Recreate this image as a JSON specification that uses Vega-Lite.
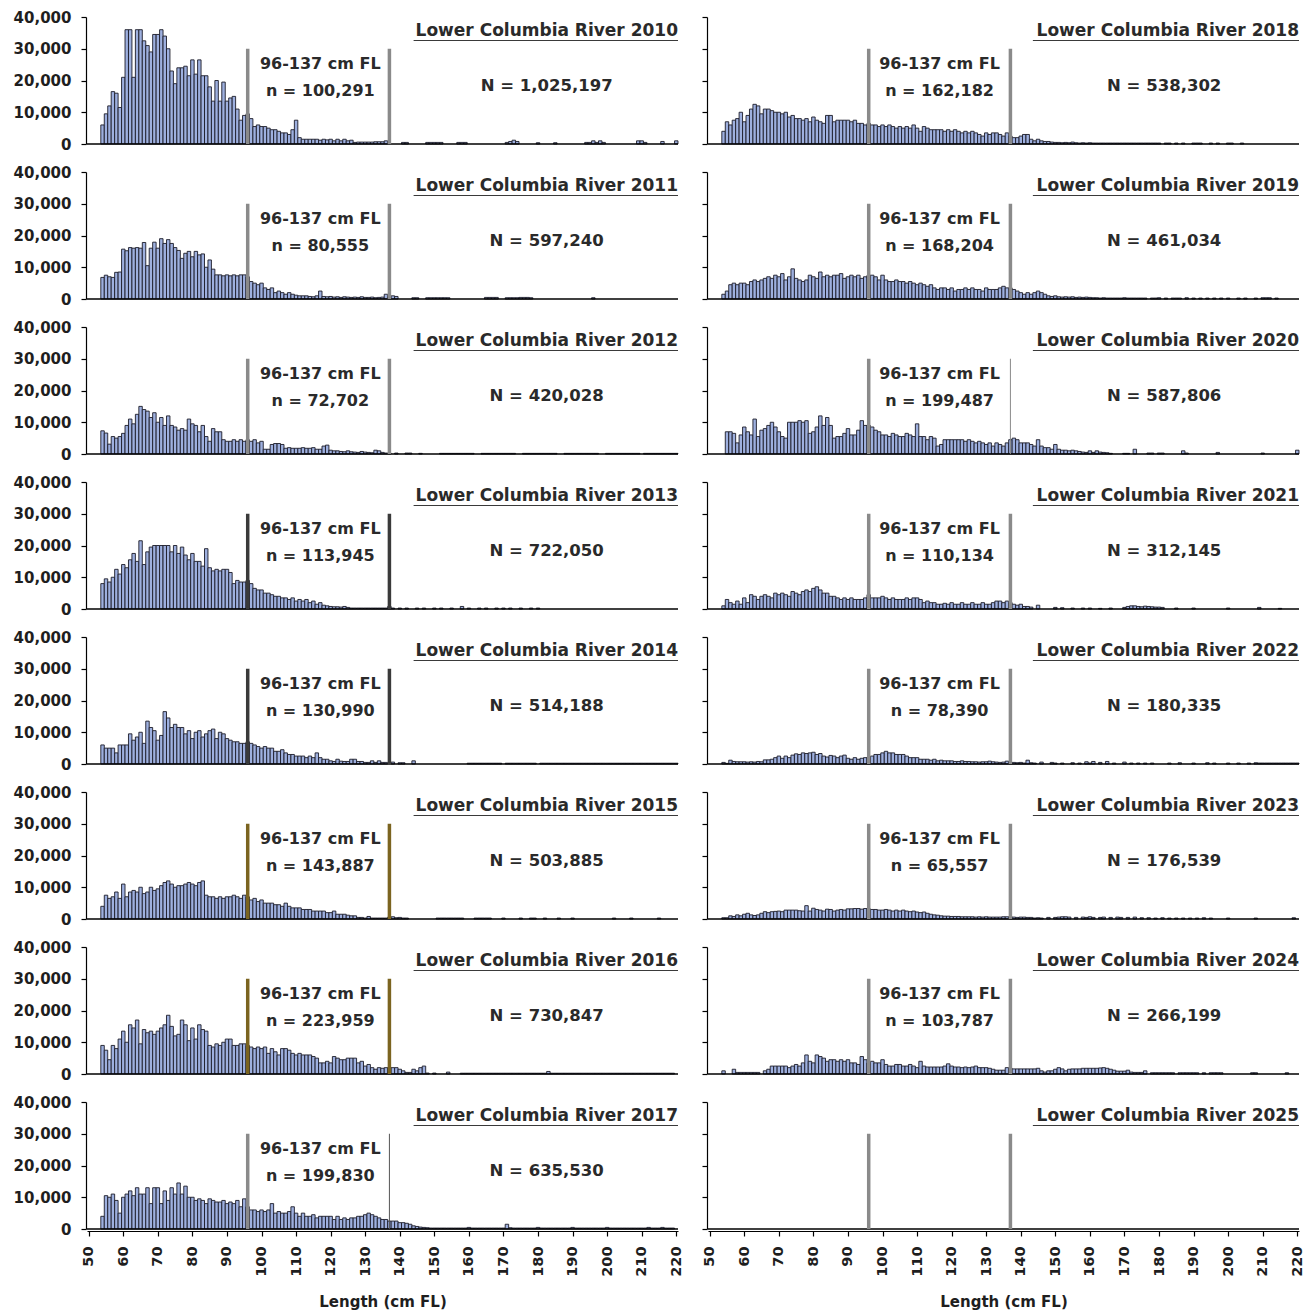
{
"$schema":"https://vega.github.io/schema/vega-lite/v6.json",
"padding":{"left":13,"top":10,"right":8,"bottom":4},
"background":"white",
"spacing":18,
"resolve":{"scale":{"x":"independent","y":"independent"},"axis":{"x":"independent","y":"independent"}},
"config":{
 "view":{"stroke":null},
 "font":"DejaVu Sans",
 "axis":{"labelFont":"DejaVu Sans","labelFontWeight":"bold","labelColor":"#1e1e1e","titleFont":"DejaVu Sans","titleFontWeight":"bold","titleColor":"#1e1e1e","domainColor":"#000","tickColor":"#000","grid":false,"domainWidth":1.2,"tickWidth":1.2,"labelOverlap":false},
 "text":{"font":"DejaVu Sans","fontWeight":"bold","fill":"#2a2a2a"}
},
"datasets":{"d":[
{"y":2010,"t":"Lower Columbia River 2010","n":"n = 100,291","N":"N = 1,025,197"},
{"y":2011,"t":"Lower Columbia River 2011","n":"n = 80,555","N":"N = 597,240"},
{"y":2012,"t":"Lower Columbia River 2012","n":"n = 72,702","N":"N = 420,028"},
{"y":2013,"t":"Lower Columbia River 2013","n":"n = 113,945","N":"N = 722,050"},
{"y":2014,"t":"Lower Columbia River 2014","n":"n = 130,990","N":"N = 514,188"},
{"y":2015,"t":"Lower Columbia River 2015","n":"n = 143,887","N":"N = 503,885"},
{"y":2016,"t":"Lower Columbia River 2016","n":"n = 223,959","N":"N = 730,847"},
{"y":2017,"t":"Lower Columbia River 2017","n":"n = 199,830","N":"N = 635,530"},
{"y":2018,"t":"Lower Columbia River 2018","n":"n = 162,182","N":"N = 538,302"},
{"y":2019,"t":"Lower Columbia River 2019","n":"n = 168,204","N":"N = 461,034"},
{"y":2020,"t":"Lower Columbia River 2020","n":"n = 199,487","N":"N = 587,806"},
{"y":2021,"t":"Lower Columbia River 2021","n":"n = 110,134","N":"N = 312,145"},
{"y":2022,"t":"Lower Columbia River 2022","n":"n = 78,390","N":"N = 180,335"},
{"y":2023,"t":"Lower Columbia River 2023","n":"n = 65,557","N":"N = 176,539"},
{"y":2024,"t":"Lower Columbia River 2024","n":"n = 103,787","N":"N = 266,199"},
{"y":2025,"t":"Lower Columbia River 2025"},
{"y":2010,"l":54,"c":6000},{"y":2010,"l":55,"c":9500},{"y":2010,"l":56,"c":12000},{"y":2010,"l":57,"c":16500},{"y":2010,"l":58,"c":16000},{"y":2010,"l":59,"c":11500},{"y":2010,"l":60,"c":21000},{"y":2010,"l":61,"c":36000},{"y":2010,"l":62,"c":36000},{"y":2010,"l":63,"c":21000},{"y":2010,"l":64,"c":36000},{"y":2010,"l":65,"c":36000},{"y":2010,"l":66,"c":32500},{"y":2010,"l":67,"c":31000},{"y":2010,"l":68,"c":29000},{"y":2010,"l":69,"c":34500},{"y":2010,"l":70,"c":34500},{"y":2010,"l":71,"c":36000},{"y":2010,"l":72,"c":34000},{"y":2010,"l":73,"c":30000},{"y":2010,"l":74,"c":23000},{"y":2010,"l":75,"c":19000},{"y":2010,"l":76,"c":24000},{"y":2010,"l":77,"c":24000},{"y":2010,"l":78,"c":24500},{"y":2010,"l":79,"c":21500},{"y":2010,"l":80,"c":26500},{"y":2010,"l":81,"c":22000},{"y":2010,"l":82,"c":26500},{"y":2010,"l":83,"c":21500},{"y":2010,"l":84,"c":21500},{"y":2010,"l":85,"c":18000},{"y":2010,"l":86,"c":13500},{"y":2010,"l":87,"c":20000},{"y":2010,"l":88,"c":13500},{"y":2010,"l":89,"c":19500},{"y":2010,"l":90,"c":13500},{"y":2010,"l":91,"c":14500},{"y":2010,"l":92,"c":15000},{"y":2010,"l":93,"c":11000},{"y":2010,"l":94,"c":7500},{"y":2010,"l":95,"c":9000},{"y":2010,"l":96,"c":9500},{"y":2010,"l":97,"c":8000},{"y":2010,"l":98,"c":5500},{"y":2010,"l":99,"c":6000},{"y":2010,"l":100,"c":5500},{"y":2010,"l":101,"c":5500},{"y":2010,"l":102,"c":5000},{"y":2010,"l":103,"c":4500},{"y":2010,"l":104,"c":4500},{"y":2010,"l":105,"c":4000},{"y":2010,"l":106,"c":3500},{"y":2010,"l":107,"c":3500},{"y":2010,"l":108,"c":3000},{"y":2010,"l":109,"c":4500},{"y":2010,"l":110,"c":7500},{"y":2010,"l":111,"c":2000},{"y":2010,"l":112,"c":1500},{"y":2010,"l":113,"c":1500},{"y":2010,"l":114,"c":1500},{"y":2010,"l":115,"c":1500},{"y":2010,"l":116,"c":1500},{"y":2010,"l":117,"c":1200},{"y":2010,"l":118,"c":1500},{"y":2010,"l":119,"c":1300},{"y":2010,"l":120,"c":1500},{"y":2010,"l":121,"c":1000},{"y":2010,"l":122,"c":1500},{"y":2010,"l":123,"c":1000},{"y":2010,"l":124,"c":1500},{"y":2010,"l":125,"c":1000},{"y":2010,"l":126,"c":1200},{"y":2010,"l":127,"c":500},{"y":2010,"l":128,"c":600},{"y":2010,"l":129,"c":600},{"y":2010,"l":130,"c":600},{"y":2010,"l":131,"c":600},{"y":2010,"l":132,"c":600},{"y":2010,"l":133,"c":700},{"y":2010,"l":134,"c":700},{"y":2010,"l":135,"c":700},{"y":2010,"l":136,"c":1000},{"y":2010,"l":141,"c":500},{"y":2010,"l":142,"c":500},{"y":2010,"l":148,"c":500},{"y":2010,"l":149,"c":500},{"y":2010,"l":150,"c":500},{"y":2010,"l":151,"c":500},{"y":2010,"l":152,"c":500},{"y":2010,"l":157,"c":500},{"y":2010,"l":158,"c":500},{"y":2010,"l":159,"c":500},{"y":2010,"l":171,"c":500},{"y":2010,"l":172,"c":800},{"y":2010,"l":173,"c":1200},{"y":2010,"l":174,"c":800},{"y":2010,"l":180,"c":400},{"y":2010,"l":185,"c":400},{"y":2010,"l":194,"c":500},{"y":2010,"l":195,"c":500},{"y":2010,"l":196,"c":1000},{"y":2010,"l":197,"c":500},{"y":2010,"l":198,"c":1000},{"y":2010,"l":199,"c":500},{"y":2010,"l":209,"c":1000},{"y":2010,"l":210,"c":1000},{"y":2010,"l":211,"c":500},{"y":2010,"l":216,"c":800},{"y":2010,"l":220,"c":1000},
{"y":2011,"l":54,"c":6800},{"y":2011,"l":55,"c":7500},{"y":2011,"l":56,"c":7000},{"y":2011,"l":57,"c":6800},{"y":2011,"l":58,"c":8400},{"y":2011,"l":59,"c":8500},{"y":2011,"l":60,"c":15700},{"y":2011,"l":61,"c":15200},{"y":2011,"l":62,"c":16200},{"y":2011,"l":63,"c":16000},{"y":2011,"l":64,"c":16200},{"y":2011,"l":65,"c":16000},{"y":2011,"l":66,"c":17800},{"y":2011,"l":67,"c":10500},{"y":2011,"l":68,"c":16000},{"y":2011,"l":69,"c":17900},{"y":2011,"l":70,"c":16000},{"y":2011,"l":71,"c":19000},{"y":2011,"l":72,"c":17500},{"y":2011,"l":73,"c":18700},{"y":2011,"l":74,"c":17500},{"y":2011,"l":75,"c":16200},{"y":2011,"l":76,"c":15300},{"y":2011,"l":77,"c":12800},{"y":2011,"l":78,"c":14400},{"y":2011,"l":79,"c":15000},{"y":2011,"l":80,"c":13300},{"y":2011,"l":81,"c":15000},{"y":2011,"l":82,"c":13900},{"y":2011,"l":83,"c":14200},{"y":2011,"l":84,"c":10000},{"y":2011,"l":85,"c":12300},{"y":2011,"l":86,"c":9400},{"y":2011,"l":87,"c":7600},{"y":2011,"l":88,"c":7600},{"y":2011,"l":89,"c":7300},{"y":2011,"l":90,"c":7600},{"y":2011,"l":91,"c":7300},{"y":2011,"l":92,"c":7600},{"y":2011,"l":93,"c":7300},{"y":2011,"l":94,"c":7600},{"y":2011,"l":95,"c":7600},{"y":2011,"l":96,"c":7000},{"y":2011,"l":97,"c":5500},{"y":2011,"l":98,"c":5000},{"y":2011,"l":99,"c":4500},{"y":2011,"l":100,"c":5000},{"y":2011,"l":101,"c":3500},{"y":2011,"l":102,"c":3000},{"y":2011,"l":103,"c":3500},{"y":2011,"l":104,"c":2000},{"y":2011,"l":105,"c":2500},{"y":2011,"l":106,"c":2000},{"y":2011,"l":107,"c":1500},{"y":2011,"l":108,"c":2000},{"y":2011,"l":109,"c":1500},{"y":2011,"l":110,"c":1200},{"y":2011,"l":111,"c":1000},{"y":2011,"l":112,"c":1000},{"y":2011,"l":113,"c":1000},{"y":2011,"l":114,"c":800},{"y":2011,"l":115,"c":700},{"y":2011,"l":116,"c":1000},{"y":2011,"l":117,"c":2500},{"y":2011,"l":118,"c":800},{"y":2011,"l":119,"c":700},{"y":2011,"l":120,"c":800},{"y":2011,"l":121,"c":600},{"y":2011,"l":122,"c":700},{"y":2011,"l":123,"c":500},{"y":2011,"l":124,"c":700},{"y":2011,"l":125,"c":600},{"y":2011,"l":126,"c":500},{"y":2011,"l":127,"c":600},{"y":2011,"l":128,"c":500},{"y":2011,"l":129,"c":700},{"y":2011,"l":130,"c":500},{"y":2011,"l":131,"c":500},{"y":2011,"l":132,"c":600},{"y":2011,"l":133,"c":400},{"y":2011,"l":134,"c":500},{"y":2011,"l":135,"c":600},{"y":2011,"l":136,"c":1500},{"y":2011,"l":137,"c":600},{"y":2011,"l":138,"c":1000},{"y":2011,"l":139,"c":800},{"y":2011,"l":144,"c":400},{"y":2011,"l":145,"c":400},{"y":2011,"l":148,"c":400},{"y":2011,"l":149,"c":400},{"y":2011,"l":150,"c":400},{"y":2011,"l":151,"c":400},{"y":2011,"l":152,"c":400},{"y":2011,"l":153,"c":400},{"y":2011,"l":154,"c":400},{"y":2011,"l":165,"c":500},{"y":2011,"l":166,"c":500},{"y":2011,"l":167,"c":500},{"y":2011,"l":168,"c":500},{"y":2011,"l":171,"c":400},{"y":2011,"l":172,"c":400},{"y":2011,"l":173,"c":400},{"y":2011,"l":174,"c":400},{"y":2011,"l":175,"c":500},{"y":2011,"l":176,"c":500},{"y":2011,"l":177,"c":500},{"y":2011,"l":178,"c":400},{"y":2011,"l":196,"c":400},
{"y":2012,"l":54,"c":7300},{"y":2012,"l":55,"c":6600},{"y":2012,"l":56,"c":3100},{"y":2012,"l":57,"c":5500},{"y":2012,"l":58,"c":5000},{"y":2012,"l":59,"c":5500},{"y":2012,"l":60,"c":6500},{"y":2012,"l":61,"c":9000},{"y":2012,"l":62,"c":11000},{"y":2012,"l":63,"c":9500},{"y":2012,"l":64,"c":12500},{"y":2012,"l":65,"c":15000},{"y":2012,"l":66,"c":14000},{"y":2012,"l":67,"c":13500},{"y":2012,"l":68,"c":11500},{"y":2012,"l":69,"c":13000},{"y":2012,"l":70,"c":10000},{"y":2012,"l":71,"c":11500},{"y":2012,"l":72,"c":9000},{"y":2012,"l":73,"c":12000},{"y":2012,"l":74,"c":9000},{"y":2012,"l":75,"c":8500},{"y":2012,"l":76,"c":7500},{"y":2012,"l":77,"c":8000},{"y":2012,"l":78,"c":7500},{"y":2012,"l":79,"c":11000},{"y":2012,"l":80,"c":9500},{"y":2012,"l":81,"c":9000},{"y":2012,"l":82,"c":7000},{"y":2012,"l":83,"c":9000},{"y":2012,"l":84,"c":5500},{"y":2012,"l":85,"c":4000},{"y":2012,"l":86,"c":8000},{"y":2012,"l":87,"c":7000},{"y":2012,"l":88,"c":7000},{"y":2012,"l":89,"c":4500},{"y":2012,"l":90,"c":4000},{"y":2012,"l":91,"c":4000},{"y":2012,"l":92,"c":4500},{"y":2012,"l":93,"c":4000},{"y":2012,"l":94,"c":4500},{"y":2012,"l":95,"c":4000},{"y":2012,"l":96,"c":4500},{"y":2012,"l":97,"c":4000},{"y":2012,"l":98,"c":4500},{"y":2012,"l":99,"c":3500},{"y":2012,"l":100,"c":4000},{"y":2012,"l":101,"c":1500},{"y":2012,"l":102,"c":1500},{"y":2012,"l":103,"c":3000},{"y":2012,"l":104,"c":3300},{"y":2012,"l":105,"c":3300},{"y":2012,"l":106,"c":3000},{"y":2012,"l":107,"c":1800},{"y":2012,"l":108,"c":2000},{"y":2012,"l":109,"c":1800},{"y":2012,"l":110,"c":1800},{"y":2012,"l":111,"c":1800},{"y":2012,"l":112,"c":2000},{"y":2012,"l":113,"c":1800},{"y":2012,"l":114,"c":1800},{"y":2012,"l":115,"c":2000},{"y":2012,"l":116,"c":1500},{"y":2012,"l":117,"c":1500},{"y":2012,"l":118,"c":2500},{"y":2012,"l":119,"c":2800},{"y":2012,"l":120,"c":1200},{"y":2012,"l":121,"c":1000},{"y":2012,"l":122,"c":1000},{"y":2012,"l":123,"c":800},{"y":2012,"l":124,"c":700},{"y":2012,"l":125,"c":1000},{"y":2012,"l":126,"c":700},{"y":2012,"l":127,"c":600},{"y":2012,"l":128,"c":500},{"y":2012,"l":129,"c":800},{"y":2012,"l":130,"c":600},{"y":2012,"l":131,"c":500},{"y":2012,"l":132,"c":400},{"y":2012,"l":133,"c":1200},{"y":2012,"l":134,"c":1000},{"y":2012,"l":135,"c":500},{"y":2012,"l":136,"c":300},{"y":2012,"l":137,"c":300},{"y":2012,"l":139,"c":300},{"y":2012,"l":142,"c":300},{"y":2012,"l":143,"c":300},{"y":2012,"l":146,"c":200},{"y":2012,"l":152,"c":200},{"y":2012,"l":153,"c":200},{"y":2012,"l":154,"c":200},{"y":2012,"l":155,"c":200},{"y":2012,"l":156,"c":200},{"y":2012,"l":157,"c":200},{"y":2012,"l":158,"c":200},{"y":2012,"l":159,"c":200},{"y":2012,"l":160,"c":200},{"y":2012,"l":161,"c":200},{"y":2012,"l":164,"c":200},{"y":2012,"l":165,"c":200},{"y":2012,"l":166,"c":200},{"y":2012,"l":167,"c":200},{"y":2012,"l":168,"c":200},{"y":2012,"l":169,"c":200},{"y":2012,"l":170,"c":200},{"y":2012,"l":171,"c":200},{"y":2012,"l":172,"c":200},{"y":2012,"l":173,"c":200},{"y":2012,"l":176,"c":200},{"y":2012,"l":177,"c":200},{"y":2012,"l":178,"c":200},{"y":2012,"l":179,"c":200},{"y":2012,"l":180,"c":200},{"y":2012,"l":181,"c":200},{"y":2012,"l":182,"c":200},{"y":2012,"l":183,"c":200},{"y":2012,"l":184,"c":200},{"y":2012,"l":185,"c":200},{"y":2012,"l":188,"c":200},{"y":2012,"l":189,"c":200},{"y":2012,"l":190,"c":200},{"y":2012,"l":191,"c":200},{"y":2012,"l":192,"c":200},{"y":2012,"l":193,"c":200},{"y":2012,"l":194,"c":200},{"y":2012,"l":195,"c":200},{"y":2012,"l":196,"c":200},{"y":2012,"l":197,"c":200},{"y":2012,"l":200,"c":200},{"y":2012,"l":201,"c":200},{"y":2012,"l":202,"c":200},{"y":2012,"l":203,"c":200},{"y":2012,"l":204,"c":200},{"y":2012,"l":205,"c":200},{"y":2012,"l":206,"c":200},{"y":2012,"l":207,"c":200},{"y":2012,"l":208,"c":200},{"y":2012,"l":209,"c":200},{"y":2012,"l":211,"c":200},{"y":2012,"l":212,"c":200},{"y":2012,"l":213,"c":200},{"y":2012,"l":214,"c":200},{"y":2012,"l":215,"c":200},{"y":2012,"l":216,"c":200},{"y":2012,"l":217,"c":200},{"y":2012,"l":218,"c":200},{"y":2012,"l":219,"c":200},{"y":2012,"l":220,"c":200},
{"y":2013,"l":54,"c":8000},{"y":2013,"l":55,"c":9500},{"y":2013,"l":56,"c":8500},{"y":2013,"l":57,"c":10000},{"y":2013,"l":58,"c":12500},{"y":2013,"l":59,"c":11000},{"y":2013,"l":60,"c":14000},{"y":2013,"l":61,"c":13000},{"y":2013,"l":62,"c":15500},{"y":2013,"l":63,"c":17500},{"y":2013,"l":64,"c":15000},{"y":2013,"l":65,"c":21500},{"y":2013,"l":66,"c":14000},{"y":2013,"l":67,"c":18000},{"y":2013,"l":68,"c":19500},{"y":2013,"l":69,"c":20000},{"y":2013,"l":70,"c":20000},{"y":2013,"l":71,"c":20000},{"y":2013,"l":72,"c":20000},{"y":2013,"l":73,"c":20000},{"y":2013,"l":74,"c":18000},{"y":2013,"l":75,"c":20000},{"y":2013,"l":76,"c":17500},{"y":2013,"l":77,"c":19500},{"y":2013,"l":78,"c":17000},{"y":2013,"l":79,"c":15500},{"y":2013,"l":80,"c":17500},{"y":2013,"l":81,"c":15000},{"y":2013,"l":82,"c":15000},{"y":2013,"l":83,"c":13500},{"y":2013,"l":84,"c":19000},{"y":2013,"l":85,"c":13000},{"y":2013,"l":86,"c":12000},{"y":2013,"l":87,"c":12500},{"y":2013,"l":88,"c":12000},{"y":2013,"l":89,"c":12500},{"y":2013,"l":90,"c":12500},{"y":2013,"l":91,"c":11500},{"y":2013,"l":92,"c":8000},{"y":2013,"l":93,"c":9000},{"y":2013,"l":94,"c":8500},{"y":2013,"l":95,"c":8500},{"y":2013,"l":96,"c":9000},{"y":2013,"l":97,"c":8000},{"y":2013,"l":98,"c":6500},{"y":2013,"l":99,"c":6000},{"y":2013,"l":100,"c":6000},{"y":2013,"l":101,"c":5000},{"y":2013,"l":102,"c":5000},{"y":2013,"l":103,"c":4500},{"y":2013,"l":104,"c":4000},{"y":2013,"l":105,"c":4000},{"y":2013,"l":106,"c":3500},{"y":2013,"l":107,"c":3500},{"y":2013,"l":108,"c":3000},{"y":2013,"l":109,"c":3500},{"y":2013,"l":110,"c":2500},{"y":2013,"l":111,"c":3000},{"y":2013,"l":112,"c":2500},{"y":2013,"l":113,"c":3000},{"y":2013,"l":114,"c":2000},{"y":2013,"l":115,"c":2500},{"y":2013,"l":116,"c":1500},{"y":2013,"l":117,"c":2000},{"y":2013,"l":118,"c":1200},{"y":2013,"l":119,"c":1000},{"y":2013,"l":120,"c":800},{"y":2013,"l":121,"c":700},{"y":2013,"l":122,"c":700},{"y":2013,"l":123,"c":600},{"y":2013,"l":124,"c":800},{"y":2013,"l":125,"c":500},{"y":2013,"l":126,"c":300},{"y":2013,"l":127,"c":300},{"y":2013,"l":128,"c":300},{"y":2013,"l":129,"c":300},{"y":2013,"l":130,"c":300},{"y":2013,"l":131,"c":300},{"y":2013,"l":132,"c":300},{"y":2013,"l":133,"c":300},{"y":2013,"l":134,"c":300},{"y":2013,"l":135,"c":300},{"y":2013,"l":136,"c":300},{"y":2013,"l":137,"c":800},{"y":2013,"l":138,"c":300},{"y":2013,"l":140,"c":300},{"y":2013,"l":142,"c":300},{"y":2013,"l":145,"c":300},{"y":2013,"l":147,"c":300},{"y":2013,"l":150,"c":300},{"y":2013,"l":152,"c":300},{"y":2013,"l":155,"c":300},{"y":2013,"l":158,"c":800},{"y":2013,"l":160,"c":300},{"y":2013,"l":163,"c":300},{"y":2013,"l":165,"c":300},{"y":2013,"l":168,"c":300},{"y":2013,"l":170,"c":300},{"y":2013,"l":172,"c":300},{"y":2013,"l":175,"c":300},{"y":2013,"l":178,"c":300},{"y":2013,"l":180,"c":300},
{"y":2014,"l":54,"c":6000},{"y":2014,"l":55,"c":5000},{"y":2014,"l":56,"c":5000},{"y":2014,"l":57,"c":5000},{"y":2014,"l":58,"c":3500},{"y":2014,"l":59,"c":6000},{"y":2014,"l":60,"c":6000},{"y":2014,"l":61,"c":6000},{"y":2014,"l":62,"c":9500},{"y":2014,"l":63,"c":7500},{"y":2014,"l":64,"c":8500},{"y":2014,"l":65,"c":10000},{"y":2014,"l":66,"c":6500},{"y":2014,"l":67,"c":13500},{"y":2014,"l":68,"c":11500},{"y":2014,"l":69,"c":10500},{"y":2014,"l":70,"c":7500},{"y":2014,"l":71,"c":9000},{"y":2014,"l":72,"c":16500},{"y":2014,"l":73,"c":14500},{"y":2014,"l":74,"c":11500},{"y":2014,"l":75,"c":12500},{"y":2014,"l":76,"c":11500},{"y":2014,"l":77,"c":11500},{"y":2014,"l":78,"c":9500},{"y":2014,"l":79,"c":10500},{"y":2014,"l":80,"c":8000},{"y":2014,"l":81,"c":10000},{"y":2014,"l":82,"c":10500},{"y":2014,"l":83,"c":8500},{"y":2014,"l":84,"c":9500},{"y":2014,"l":85,"c":10500},{"y":2014,"l":86,"c":11000},{"y":2014,"l":87,"c":8000},{"y":2014,"l":88,"c":10000},{"y":2014,"l":89,"c":9500},{"y":2014,"l":90,"c":8000},{"y":2014,"l":91,"c":7500},{"y":2014,"l":92,"c":7000},{"y":2014,"l":93,"c":7000},{"y":2014,"l":94,"c":6500},{"y":2014,"l":95,"c":6500},{"y":2014,"l":96,"c":7000},{"y":2014,"l":97,"c":6500},{"y":2014,"l":98,"c":6000},{"y":2014,"l":99,"c":5500},{"y":2014,"l":100,"c":5000},{"y":2014,"l":101,"c":5500},{"y":2014,"l":102,"c":5000},{"y":2014,"l":103,"c":5000},{"y":2014,"l":104,"c":4000},{"y":2014,"l":105,"c":4000},{"y":2014,"l":106,"c":4500},{"y":2014,"l":107,"c":3500},{"y":2014,"l":108,"c":3000},{"y":2014,"l":109,"c":3000},{"y":2014,"l":110,"c":2500},{"y":2014,"l":111,"c":2500},{"y":2014,"l":112,"c":2500},{"y":2014,"l":113,"c":2000},{"y":2014,"l":114,"c":2500},{"y":2014,"l":115,"c":2000},{"y":2014,"l":116,"c":3500},{"y":2014,"l":117,"c":2000},{"y":2014,"l":118,"c":1500},{"y":2014,"l":119,"c":1500},{"y":2014,"l":120,"c":1000},{"y":2014,"l":121,"c":800},{"y":2014,"l":122,"c":1500},{"y":2014,"l":123,"c":900},{"y":2014,"l":124,"c":800},{"y":2014,"l":125,"c":800},{"y":2014,"l":126,"c":1500},{"y":2014,"l":127,"c":1500},{"y":2014,"l":128,"c":800},{"y":2014,"l":129,"c":800},{"y":2014,"l":130,"c":500},{"y":2014,"l":131,"c":500},{"y":2014,"l":132,"c":1000},{"y":2014,"l":133,"c":500},{"y":2014,"l":134,"c":1000},{"y":2014,"l":135,"c":500},{"y":2014,"l":136,"c":500},{"y":2014,"l":138,"c":600},{"y":2014,"l":140,"c":400},{"y":2014,"l":141,"c":400},{"y":2014,"l":144,"c":1000},{"y":2014,"l":160,"c":250},{"y":2014,"l":161,"c":250},{"y":2014,"l":162,"c":250},{"y":2014,"l":163,"c":250},{"y":2014,"l":164,"c":250},{"y":2014,"l":165,"c":250},{"y":2014,"l":166,"c":250},{"y":2014,"l":167,"c":250},{"y":2014,"l":168,"c":250},{"y":2014,"l":169,"c":250},{"y":2014,"l":171,"c":250},{"y":2014,"l":172,"c":250},{"y":2014,"l":173,"c":250},{"y":2014,"l":174,"c":250},{"y":2014,"l":175,"c":250},{"y":2014,"l":176,"c":250},{"y":2014,"l":177,"c":250},{"y":2014,"l":178,"c":250},{"y":2014,"l":179,"c":250},{"y":2014,"l":181,"c":250},{"y":2014,"l":182,"c":250},{"y":2014,"l":183,"c":250},{"y":2014,"l":184,"c":250},{"y":2014,"l":185,"c":250},{"y":2014,"l":186,"c":250},{"y":2014,"l":187,"c":250},{"y":2014,"l":188,"c":250},{"y":2014,"l":189,"c":250},{"y":2014,"l":190,"c":250},{"y":2014,"l":191,"c":250},{"y":2014,"l":192,"c":250},{"y":2014,"l":193,"c":250},{"y":2014,"l":194,"c":250},{"y":2014,"l":195,"c":250},{"y":2014,"l":196,"c":250},{"y":2014,"l":197,"c":250},{"y":2014,"l":198,"c":250},{"y":2014,"l":199,"c":250},{"y":2014,"l":200,"c":250},{"y":2014,"l":201,"c":250},{"y":2014,"l":202,"c":250},{"y":2014,"l":203,"c":250},{"y":2014,"l":204,"c":250},{"y":2014,"l":205,"c":250},{"y":2014,"l":206,"c":250},{"y":2014,"l":207,"c":250},{"y":2014,"l":208,"c":250},{"y":2014,"l":209,"c":250},{"y":2014,"l":210,"c":250},{"y":2014,"l":211,"c":250},{"y":2014,"l":212,"c":250},{"y":2014,"l":213,"c":250},{"y":2014,"l":214,"c":250},{"y":2014,"l":215,"c":250},{"y":2014,"l":216,"c":250},{"y":2014,"l":217,"c":250},{"y":2014,"l":218,"c":250},{"y":2014,"l":219,"c":250},{"y":2014,"l":220,"c":250},
{"y":2015,"l":54,"c":4000},{"y":2015,"l":55,"c":7500},{"y":2015,"l":56,"c":6500},{"y":2015,"l":57,"c":7000},{"y":2015,"l":58,"c":8500},{"y":2015,"l":59,"c":6500},{"y":2015,"l":60,"c":11000},{"y":2015,"l":61,"c":7000},{"y":2015,"l":62,"c":8500},{"y":2015,"l":63,"c":9000},{"y":2015,"l":64,"c":8500},{"y":2015,"l":65,"c":10000},{"y":2015,"l":66,"c":8000},{"y":2015,"l":67,"c":8500},{"y":2015,"l":68,"c":10000},{"y":2015,"l":69,"c":9000},{"y":2015,"l":70,"c":9500},{"y":2015,"l":71,"c":10500},{"y":2015,"l":72,"c":11500},{"y":2015,"l":73,"c":12000},{"y":2015,"l":74,"c":11000},{"y":2015,"l":75,"c":10000},{"y":2015,"l":76,"c":10500},{"y":2015,"l":77,"c":10500},{"y":2015,"l":78,"c":11000},{"y":2015,"l":79,"c":11500},{"y":2015,"l":80,"c":11000},{"y":2015,"l":81,"c":10500},{"y":2015,"l":82,"c":11500},{"y":2015,"l":83,"c":12000},{"y":2015,"l":84,"c":7500},{"y":2015,"l":85,"c":7000},{"y":2015,"l":86,"c":7000},{"y":2015,"l":87,"c":6500},{"y":2015,"l":88,"c":7000},{"y":2015,"l":89,"c":6500},{"y":2015,"l":90,"c":7000},{"y":2015,"l":91,"c":7000},{"y":2015,"l":92,"c":7500},{"y":2015,"l":93,"c":7000},{"y":2015,"l":94,"c":6500},{"y":2015,"l":95,"c":7500},{"y":2015,"l":96,"c":7000},{"y":2015,"l":97,"c":6000},{"y":2015,"l":98,"c":6500},{"y":2015,"l":99,"c":5500},{"y":2015,"l":100,"c":6000},{"y":2015,"l":101,"c":5000},{"y":2015,"l":102,"c":5000},{"y":2015,"l":103,"c":5000},{"y":2015,"l":104,"c":4500},{"y":2015,"l":105,"c":4500},{"y":2015,"l":106,"c":4000},{"y":2015,"l":107,"c":5000},{"y":2015,"l":108,"c":4000},{"y":2015,"l":109,"c":3500},{"y":2015,"l":110,"c":3500},{"y":2015,"l":111,"c":3500},{"y":2015,"l":112,"c":3000},{"y":2015,"l":113,"c":3000},{"y":2015,"l":114,"c":3000},{"y":2015,"l":115,"c":2500},{"y":2015,"l":116,"c":2500},{"y":2015,"l":117,"c":2500},{"y":2015,"l":118,"c":2500},{"y":2015,"l":119,"c":2000},{"y":2015,"l":120,"c":2000},{"y":2015,"l":121,"c":2500},{"y":2015,"l":122,"c":1500},{"y":2015,"l":123,"c":1500},{"y":2015,"l":124,"c":1500},{"y":2015,"l":125,"c":1200},{"y":2015,"l":126,"c":1000},{"y":2015,"l":127,"c":1000},{"y":2015,"l":128,"c":500},{"y":2015,"l":129,"c":500},{"y":2015,"l":130,"c":300},{"y":2015,"l":131,"c":800},{"y":2015,"l":132,"c":300},{"y":2015,"l":133,"c":300},{"y":2015,"l":134,"c":300},{"y":2015,"l":135,"c":300},{"y":2015,"l":136,"c":300},{"y":2015,"l":137,"c":600},{"y":2015,"l":138,"c":700},{"y":2015,"l":139,"c":400},{"y":2015,"l":140,"c":500},{"y":2015,"l":141,"c":300},{"y":2015,"l":142,"c":300},{"y":2015,"l":151,"c":300},{"y":2015,"l":152,"c":300},{"y":2015,"l":153,"c":300},{"y":2015,"l":154,"c":300},{"y":2015,"l":155,"c":300},{"y":2015,"l":156,"c":300},{"y":2015,"l":157,"c":300},{"y":2015,"l":158,"c":300},{"y":2015,"l":162,"c":300},{"y":2015,"l":163,"c":300},{"y":2015,"l":164,"c":300},{"y":2015,"l":165,"c":300},{"y":2015,"l":166,"c":300},{"y":2015,"l":170,"c":300},{"y":2015,"l":175,"c":300},{"y":2015,"l":178,"c":300},{"y":2015,"l":179,"c":300},{"y":2015,"l":182,"c":300},{"y":2015,"l":186,"c":300},{"y":2015,"l":190,"c":300},{"y":2015,"l":202,"c":300},{"y":2015,"l":207,"c":300},{"y":2015,"l":215,"c":300},
{"y":2016,"l":54,"c":9000},{"y":2016,"l":55,"c":7500},{"y":2016,"l":56,"c":4500},{"y":2016,"l":57,"c":9000},{"y":2016,"l":58,"c":8000},{"y":2016,"l":59,"c":11000},{"y":2016,"l":60,"c":13500},{"y":2016,"l":61,"c":10000},{"y":2016,"l":62,"c":15500},{"y":2016,"l":63,"c":14500},{"y":2016,"l":64,"c":17000},{"y":2016,"l":65,"c":9500},{"y":2016,"l":66,"c":14000},{"y":2016,"l":67,"c":13000},{"y":2016,"l":68,"c":13500},{"y":2016,"l":69,"c":12500},{"y":2016,"l":70,"c":13500},{"y":2016,"l":71,"c":14500},{"y":2016,"l":72,"c":15500},{"y":2016,"l":73,"c":18500},{"y":2016,"l":74,"c":15000},{"y":2016,"l":75,"c":12000},{"y":2016,"l":76,"c":12500},{"y":2016,"l":77,"c":17000},{"y":2016,"l":78,"c":15500},{"y":2016,"l":79,"c":10500},{"y":2016,"l":80,"c":14500},{"y":2016,"l":81,"c":11000},{"y":2016,"l":82,"c":15500},{"y":2016,"l":83,"c":14000},{"y":2016,"l":84,"c":13500},{"y":2016,"l":85,"c":9000},{"y":2016,"l":86,"c":8500},{"y":2016,"l":87,"c":9500},{"y":2016,"l":88,"c":9000},{"y":2016,"l":89,"c":10000},{"y":2016,"l":90,"c":11000},{"y":2016,"l":91,"c":11000},{"y":2016,"l":92,"c":9000},{"y":2016,"l":93,"c":9000},{"y":2016,"l":94,"c":9500},{"y":2016,"l":95,"c":9500},{"y":2016,"l":96,"c":9000},{"y":2016,"l":97,"c":8500},{"y":2016,"l":98,"c":8000},{"y":2016,"l":99,"c":8500},{"y":2016,"l":100,"c":8000},{"y":2016,"l":101,"c":8500},{"y":2016,"l":102,"c":6500},{"y":2016,"l":103,"c":8000},{"y":2016,"l":104,"c":7000},{"y":2016,"l":105,"c":6000},{"y":2016,"l":106,"c":8000},{"y":2016,"l":107,"c":8000},{"y":2016,"l":108,"c":7500},{"y":2016,"l":109,"c":6500},{"y":2016,"l":110,"c":6000},{"y":2016,"l":111,"c":6500},{"y":2016,"l":112,"c":6000},{"y":2016,"l":113,"c":6000},{"y":2016,"l":114,"c":6000},{"y":2016,"l":115,"c":5500},{"y":2016,"l":116,"c":5000},{"y":2016,"l":117,"c":3500},{"y":2016,"l":118,"c":3500},{"y":2016,"l":119,"c":4000},{"y":2016,"l":120,"c":3500},{"y":2016,"l":121,"c":5500},{"y":2016,"l":122,"c":5000},{"y":2016,"l":123,"c":4500},{"y":2016,"l":124,"c":4500},{"y":2016,"l":125,"c":5000},{"y":2016,"l":126,"c":5000},{"y":2016,"l":127,"c":5000},{"y":2016,"l":128,"c":3500},{"y":2016,"l":129,"c":4000},{"y":2016,"l":130,"c":2500},{"y":2016,"l":131,"c":3000},{"y":2016,"l":132,"c":2000},{"y":2016,"l":133,"c":1500},{"y":2016,"l":134,"c":2000},{"y":2016,"l":135,"c":1800},{"y":2016,"l":136,"c":2000},{"y":2016,"l":137,"c":2000},{"y":2016,"l":138,"c":2000},{"y":2016,"l":139,"c":2000},{"y":2016,"l":140,"c":1500},{"y":2016,"l":141,"c":1000},{"y":2016,"l":142,"c":500},{"y":2016,"l":143,"c":500},{"y":2016,"l":144,"c":1500},{"y":2016,"l":145,"c":1000},{"y":2016,"l":146,"c":2000},{"y":2016,"l":147,"c":2500},{"y":2016,"l":148,"c":300},{"y":2016,"l":150,"c":300},{"y":2016,"l":154,"c":600},{"y":2016,"l":158,"c":250},{"y":2016,"l":159,"c":250},{"y":2016,"l":160,"c":250},{"y":2016,"l":161,"c":250},{"y":2016,"l":162,"c":250},{"y":2016,"l":163,"c":250},{"y":2016,"l":164,"c":250},{"y":2016,"l":165,"c":250},{"y":2016,"l":166,"c":250},{"y":2016,"l":167,"c":250},{"y":2016,"l":168,"c":250},{"y":2016,"l":169,"c":250},{"y":2016,"l":170,"c":250},{"y":2016,"l":171,"c":250},{"y":2016,"l":172,"c":250},{"y":2016,"l":173,"c":250},{"y":2016,"l":174,"c":250},{"y":2016,"l":175,"c":250},{"y":2016,"l":176,"c":250},{"y":2016,"l":177,"c":250},{"y":2016,"l":178,"c":250},{"y":2016,"l":179,"c":250},{"y":2016,"l":180,"c":250},{"y":2016,"l":181,"c":250},{"y":2016,"l":182,"c":250},{"y":2016,"l":183,"c":800},{"y":2016,"l":184,"c":250},{"y":2016,"l":185,"c":250},{"y":2016,"l":186,"c":250},{"y":2016,"l":187,"c":250},{"y":2016,"l":188,"c":250},{"y":2016,"l":189,"c":250},{"y":2016,"l":190,"c":250},{"y":2016,"l":191,"c":250},{"y":2016,"l":192,"c":250},{"y":2016,"l":193,"c":250},{"y":2016,"l":194,"c":250},{"y":2016,"l":195,"c":250},{"y":2016,"l":196,"c":250},{"y":2016,"l":197,"c":250},{"y":2016,"l":198,"c":250},{"y":2016,"l":199,"c":250},{"y":2016,"l":200,"c":250},{"y":2016,"l":201,"c":250},{"y":2016,"l":202,"c":250},{"y":2016,"l":203,"c":250},{"y":2016,"l":204,"c":250},{"y":2016,"l":205,"c":250},{"y":2016,"l":206,"c":250},{"y":2016,"l":207,"c":250},{"y":2016,"l":208,"c":250},{"y":2016,"l":209,"c":250},{"y":2016,"l":210,"c":250},{"y":2016,"l":211,"c":250},{"y":2016,"l":212,"c":250},{"y":2016,"l":213,"c":250},{"y":2016,"l":214,"c":250},{"y":2016,"l":215,"c":250},{"y":2016,"l":216,"c":250},{"y":2016,"l":217,"c":250},{"y":2016,"l":218,"c":250},{"y":2016,"l":219,"c":250},
{"y":2017,"l":54,"c":4000},{"y":2017,"l":55,"c":10500},{"y":2017,"l":56,"c":10000},{"y":2017,"l":57,"c":11000},{"y":2017,"l":58,"c":9000},{"y":2017,"l":59,"c":5000},{"y":2017,"l":60,"c":10000},{"y":2017,"l":61,"c":11000},{"y":2017,"l":62,"c":12000},{"y":2017,"l":63,"c":10500},{"y":2017,"l":64,"c":13000},{"y":2017,"l":65,"c":11000},{"y":2017,"l":66,"c":11000},{"y":2017,"l":67,"c":13000},{"y":2017,"l":68,"c":8000},{"y":2017,"l":69,"c":13000},{"y":2017,"l":70,"c":13000},{"y":2017,"l":71,"c":8000},{"y":2017,"l":72,"c":12000},{"y":2017,"l":73,"c":9000},{"y":2017,"l":74,"c":13000},{"y":2017,"l":75,"c":11000},{"y":2017,"l":76,"c":14500},{"y":2017,"l":77,"c":11000},{"y":2017,"l":78,"c":13500},{"y":2017,"l":79,"c":10000},{"y":2017,"l":80,"c":10000},{"y":2017,"l":81,"c":9000},{"y":2017,"l":82,"c":9500},{"y":2017,"l":83,"c":9000},{"y":2017,"l":84,"c":8000},{"y":2017,"l":85,"c":9500},{"y":2017,"l":86,"c":9000},{"y":2017,"l":87,"c":8500},{"y":2017,"l":88,"c":8500},{"y":2017,"l":89,"c":9000},{"y":2017,"l":90,"c":8000},{"y":2017,"l":91,"c":8500},{"y":2017,"l":92,"c":8000},{"y":2017,"l":93,"c":9000},{"y":2017,"l":94,"c":7000},{"y":2017,"l":95,"c":9500},{"y":2017,"l":96,"c":7000},{"y":2017,"l":97,"c":6000},{"y":2017,"l":98,"c":6000},{"y":2017,"l":99,"c":5500},{"y":2017,"l":100,"c":6000},{"y":2017,"l":101,"c":5500},{"y":2017,"l":102,"c":6000},{"y":2017,"l":103,"c":8000},{"y":2017,"l":104,"c":5000},{"y":2017,"l":105,"c":5500},{"y":2017,"l":106,"c":5000},{"y":2017,"l":107,"c":5000},{"y":2017,"l":108,"c":5500},{"y":2017,"l":109,"c":7000},{"y":2017,"l":110,"c":5000},{"y":2017,"l":111,"c":4000},{"y":2017,"l":112,"c":5000},{"y":2017,"l":113,"c":4000},{"y":2017,"l":114,"c":4000},{"y":2017,"l":115,"c":4500},{"y":2017,"l":116,"c":3500},{"y":2017,"l":117,"c":4000},{"y":2017,"l":118,"c":4000},{"y":2017,"l":119,"c":4000},{"y":2017,"l":120,"c":4000},{"y":2017,"l":121,"c":3000},{"y":2017,"l":122,"c":4000},{"y":2017,"l":123,"c":3000},{"y":2017,"l":124,"c":3500},{"y":2017,"l":125,"c":3000},{"y":2017,"l":126,"c":3500},{"y":2017,"l":127,"c":3500},{"y":2017,"l":128,"c":4000},{"y":2017,"l":129,"c":4000},{"y":2017,"l":130,"c":4500},{"y":2017,"l":131,"c":5000},{"y":2017,"l":132,"c":4500},{"y":2017,"l":133,"c":4000},{"y":2017,"l":134,"c":3500},{"y":2017,"l":135,"c":3000},{"y":2017,"l":136,"c":3000},{"y":2017,"l":137,"c":2500},{"y":2017,"l":138,"c":2500},{"y":2017,"l":139,"c":2500},{"y":2017,"l":140,"c":2000},{"y":2017,"l":141,"c":2000},{"y":2017,"l":142,"c":1800},{"y":2017,"l":143,"c":1500},{"y":2017,"l":144,"c":1000},{"y":2017,"l":145,"c":800},{"y":2017,"l":146,"c":600},{"y":2017,"l":147,"c":500},{"y":2017,"l":148,"c":400},{"y":2017,"l":149,"c":300},{"y":2017,"l":150,"c":300},{"y":2017,"l":151,"c":300},{"y":2017,"l":152,"c":300},{"y":2017,"l":153,"c":300},{"y":2017,"l":154,"c":300},{"y":2017,"l":155,"c":300},{"y":2017,"l":156,"c":300},{"y":2017,"l":157,"c":300},{"y":2017,"l":158,"c":300},{"y":2017,"l":159,"c":300},{"y":2017,"l":160,"c":500},{"y":2017,"l":161,"c":300},{"y":2017,"l":162,"c":300},{"y":2017,"l":163,"c":300},{"y":2017,"l":164,"c":300},{"y":2017,"l":165,"c":300},{"y":2017,"l":166,"c":300},{"y":2017,"l":167,"c":300},{"y":2017,"l":168,"c":300},{"y":2017,"l":169,"c":300},{"y":2017,"l":170,"c":300},{"y":2017,"l":171,"c":1500},{"y":2017,"l":172,"c":400},{"y":2017,"l":173,"c":300},{"y":2017,"l":174,"c":300},{"y":2017,"l":175,"c":300},{"y":2017,"l":176,"c":300},{"y":2017,"l":177,"c":300},{"y":2017,"l":178,"c":300},{"y":2017,"l":179,"c":300},{"y":2017,"l":180,"c":500},{"y":2017,"l":181,"c":300},{"y":2017,"l":182,"c":300},{"y":2017,"l":183,"c":300},{"y":2017,"l":184,"c":300},{"y":2017,"l":185,"c":300},{"y":2017,"l":186,"c":300},{"y":2017,"l":187,"c":300},{"y":2017,"l":188,"c":300},{"y":2017,"l":189,"c":300},{"y":2017,"l":190,"c":500},{"y":2017,"l":191,"c":300},{"y":2017,"l":192,"c":300},{"y":2017,"l":193,"c":300},{"y":2017,"l":194,"c":300},{"y":2017,"l":195,"c":300},{"y":2017,"l":196,"c":300},{"y":2017,"l":197,"c":300},{"y":2017,"l":198,"c":300},{"y":2017,"l":199,"c":300},{"y":2017,"l":200,"c":500},{"y":2017,"l":201,"c":300},{"y":2017,"l":202,"c":300},{"y":2017,"l":203,"c":300},{"y":2017,"l":204,"c":300},{"y":2017,"l":205,"c":300},{"y":2017,"l":206,"c":300},{"y":2017,"l":207,"c":300},{"y":2017,"l":208,"c":300},{"y":2017,"l":209,"c":300},{"y":2017,"l":210,"c":300},{"y":2017,"l":211,"c":300},{"y":2017,"l":212,"c":500},{"y":2017,"l":213,"c":300},{"y":2017,"l":214,"c":300},{"y":2017,"l":215,"c":300},{"y":2017,"l":216,"c":500},{"y":2017,"l":217,"c":300},{"y":2017,"l":218,"c":300},{"y":2017,"l":219,"c":300},
{"y":2018,"l":54,"c":4000},{"y":2018,"l":55,"c":7000},{"y":2018,"l":56,"c":6000},{"y":2018,"l":57,"c":7500},{"y":2018,"l":58,"c":8000},{"y":2018,"l":59,"c":10000},{"y":2018,"l":60,"c":7000},{"y":2018,"l":61,"c":9000},{"y":2018,"l":62,"c":11000},{"y":2018,"l":63,"c":12500},{"y":2018,"l":64,"c":12000},{"y":2018,"l":65,"c":9500},{"y":2018,"l":66,"c":11000},{"y":2018,"l":67,"c":11000},{"y":2018,"l":68,"c":10500},{"y":2018,"l":69,"c":10000},{"y":2018,"l":70,"c":10000},{"y":2018,"l":71,"c":9500},{"y":2018,"l":72,"c":10000},{"y":2018,"l":73,"c":8500},{"y":2018,"l":74,"c":9000},{"y":2018,"l":75,"c":8000},{"y":2018,"l":76,"c":8000},{"y":2018,"l":77,"c":7500},{"y":2018,"l":78,"c":8000},{"y":2018,"l":79,"c":7000},{"y":2018,"l":80,"c":8500},{"y":2018,"l":81,"c":7500},{"y":2018,"l":82,"c":7000},{"y":2018,"l":83,"c":6500},{"y":2018,"l":84,"c":9000},{"y":2018,"l":85,"c":9000},{"y":2018,"l":86,"c":7000},{"y":2018,"l":87,"c":7500},{"y":2018,"l":88,"c":7500},{"y":2018,"l":89,"c":7500},{"y":2018,"l":90,"c":7500},{"y":2018,"l":91,"c":7000},{"y":2018,"l":92,"c":7500},{"y":2018,"l":93,"c":6500},{"y":2018,"l":94,"c":6500},{"y":2018,"l":95,"c":6000},{"y":2018,"l":96,"c":6500},{"y":2018,"l":97,"c":6000},{"y":2018,"l":98,"c":6000},{"y":2018,"l":99,"c":5500},{"y":2018,"l":100,"c":6000},{"y":2018,"l":101,"c":5500},{"y":2018,"l":102,"c":6000},{"y":2018,"l":103,"c":5500},{"y":2018,"l":104,"c":5000},{"y":2018,"l":105,"c":5500},{"y":2018,"l":106,"c":5000},{"y":2018,"l":107,"c":5500},{"y":2018,"l":108,"c":5000},{"y":2018,"l":109,"c":6000},{"y":2018,"l":110,"c":5000},{"y":2018,"l":111,"c":4000},{"y":2018,"l":112,"c":5500},{"y":2018,"l":113,"c":5000},{"y":2018,"l":114,"c":4500},{"y":2018,"l":115,"c":4500},{"y":2018,"l":116,"c":4500},{"y":2018,"l":117,"c":4500},{"y":2018,"l":118,"c":4000},{"y":2018,"l":119,"c":4500},{"y":2018,"l":120,"c":4000},{"y":2018,"l":121,"c":4500},{"y":2018,"l":122,"c":4000},{"y":2018,"l":123,"c":3500},{"y":2018,"l":124,"c":4000},{"y":2018,"l":125,"c":3500},{"y":2018,"l":126,"c":4000},{"y":2018,"l":127,"c":3500},{"y":2018,"l":128,"c":3000},{"y":2018,"l":129,"c":2500},{"y":2018,"l":130,"c":3500},{"y":2018,"l":131,"c":3000},{"y":2018,"l":132,"c":3500},{"y":2018,"l":133,"c":3500},{"y":2018,"l":134,"c":3000},{"y":2018,"l":135,"c":2500},{"y":2018,"l":136,"c":3500},{"y":2018,"l":137,"c":2500},{"y":2018,"l":138,"c":2000},{"y":2018,"l":139,"c":2000},{"y":2018,"l":140,"c":2500},{"y":2018,"l":141,"c":3000},{"y":2018,"l":142,"c":3000},{"y":2018,"l":143,"c":1500},{"y":2018,"l":144,"c":1000},{"y":2018,"l":145,"c":1500},{"y":2018,"l":146,"c":1000},{"y":2018,"l":147,"c":800},{"y":2018,"l":148,"c":800},{"y":2018,"l":149,"c":600},{"y":2018,"l":150,"c":500},{"y":2018,"l":151,"c":500},{"y":2018,"l":152,"c":400},{"y":2018,"l":153,"c":500},{"y":2018,"l":154,"c":400},{"y":2018,"l":155,"c":600},{"y":2018,"l":156,"c":400},{"y":2018,"l":157,"c":300},{"y":2018,"l":158,"c":400},{"y":2018,"l":159,"c":300},{"y":2018,"l":160,"c":400},{"y":2018,"l":161,"c":300},{"y":2018,"l":162,"c":300},{"y":2018,"l":163,"c":300},{"y":2018,"l":164,"c":300},{"y":2018,"l":165,"c":300},{"y":2018,"l":166,"c":300},{"y":2018,"l":167,"c":300},{"y":2018,"l":168,"c":300},{"y":2018,"l":169,"c":300},{"y":2018,"l":170,"c":300},{"y":2018,"l":171,"c":300},{"y":2018,"l":172,"c":300},{"y":2018,"l":173,"c":300},{"y":2018,"l":174,"c":300},{"y":2018,"l":175,"c":300},{"y":2018,"l":176,"c":300},{"y":2018,"l":177,"c":300},{"y":2018,"l":178,"c":300},{"y":2018,"l":179,"c":300},{"y":2018,"l":180,"c":300},{"y":2018,"l":182,"c":300},{"y":2018,"l":183,"c":300},{"y":2018,"l":185,"c":300},{"y":2018,"l":187,"c":300},{"y":2018,"l":190,"c":300},{"y":2018,"l":191,"c":300},{"y":2018,"l":192,"c":300},{"y":2018,"l":195,"c":300},{"y":2018,"l":197,"c":300},{"y":2018,"l":200,"c":300},{"y":2018,"l":201,"c":300},{"y":2018,"l":204,"c":300},
{"y":2019,"l":54,"c":1500},{"y":2019,"l":55,"c":2500},{"y":2019,"l":56,"c":4500},{"y":2019,"l":57,"c":5000},{"y":2019,"l":58,"c":4500},{"y":2019,"l":59,"c":5000},{"y":2019,"l":60,"c":5000},{"y":2019,"l":61,"c":4500},{"y":2019,"l":62,"c":5500},{"y":2019,"l":63,"c":6000},{"y":2019,"l":64,"c":5500},{"y":2019,"l":65,"c":6000},{"y":2019,"l":66,"c":6500},{"y":2019,"l":67,"c":7000},{"y":2019,"l":68,"c":6500},{"y":2019,"l":69,"c":7500},{"y":2019,"l":70,"c":7000},{"y":2019,"l":71,"c":8000},{"y":2019,"l":72,"c":6000},{"y":2019,"l":73,"c":7000},{"y":2019,"l":74,"c":9500},{"y":2019,"l":75,"c":6500},{"y":2019,"l":76,"c":6000},{"y":2019,"l":77,"c":5500},{"y":2019,"l":78,"c":6000},{"y":2019,"l":79,"c":7500},{"y":2019,"l":80,"c":7000},{"y":2019,"l":81,"c":6500},{"y":2019,"l":82,"c":8500},{"y":2019,"l":83,"c":7000},{"y":2019,"l":84,"c":7500},{"y":2019,"l":85,"c":7000},{"y":2019,"l":86,"c":7500},{"y":2019,"l":87,"c":7500},{"y":2019,"l":88,"c":8000},{"y":2019,"l":89,"c":6500},{"y":2019,"l":90,"c":7000},{"y":2019,"l":91,"c":7500},{"y":2019,"l":92,"c":7000},{"y":2019,"l":93,"c":7500},{"y":2019,"l":94,"c":6500},{"y":2019,"l":95,"c":7000},{"y":2019,"l":96,"c":7500},{"y":2019,"l":97,"c":7500},{"y":2019,"l":98,"c":7000},{"y":2019,"l":99,"c":6000},{"y":2019,"l":100,"c":7500},{"y":2019,"l":101,"c":6000},{"y":2019,"l":102,"c":5500},{"y":2019,"l":103,"c":5500},{"y":2019,"l":104,"c":6000},{"y":2019,"l":105,"c":5500},{"y":2019,"l":106,"c":5500},{"y":2019,"l":107,"c":5000},{"y":2019,"l":108,"c":5500},{"y":2019,"l":109,"c":5000},{"y":2019,"l":110,"c":4500},{"y":2019,"l":111,"c":5000},{"y":2019,"l":112,"c":4500},{"y":2019,"l":113,"c":4000},{"y":2019,"l":114,"c":4500},{"y":2019,"l":115,"c":3500},{"y":2019,"l":116,"c":3000},{"y":2019,"l":117,"c":3500},{"y":2019,"l":118,"c":3500},{"y":2019,"l":119,"c":3000},{"y":2019,"l":120,"c":3500},{"y":2019,"l":121,"c":2500},{"y":2019,"l":122,"c":3000},{"y":2019,"l":123,"c":3000},{"y":2019,"l":124,"c":3500},{"y":2019,"l":125,"c":3000},{"y":2019,"l":126,"c":3500},{"y":2019,"l":127,"c":3000},{"y":2019,"l":128,"c":3000},{"y":2019,"l":129,"c":2500},{"y":2019,"l":130,"c":3500},{"y":2019,"l":131,"c":3000},{"y":2019,"l":132,"c":3000},{"y":2019,"l":133,"c":3000},{"y":2019,"l":134,"c":3500},{"y":2019,"l":135,"c":4000},{"y":2019,"l":136,"c":3500},{"y":2019,"l":137,"c":3500},{"y":2019,"l":138,"c":3000},{"y":2019,"l":139,"c":2500},{"y":2019,"l":140,"c":2000},{"y":2019,"l":141,"c":1500},{"y":2019,"l":142,"c":2000},{"y":2019,"l":143,"c":1500},{"y":2019,"l":144,"c":2000},{"y":2019,"l":145,"c":2500},{"y":2019,"l":146,"c":2000},{"y":2019,"l":147,"c":1500},{"y":2019,"l":148,"c":1000},{"y":2019,"l":149,"c":800},{"y":2019,"l":150,"c":1000},{"y":2019,"l":151,"c":700},{"y":2019,"l":152,"c":600},{"y":2019,"l":153,"c":700},{"y":2019,"l":154,"c":600},{"y":2019,"l":155,"c":700},{"y":2019,"l":156,"c":500},{"y":2019,"l":157,"c":600},{"y":2019,"l":158,"c":500},{"y":2019,"l":159,"c":600},{"y":2019,"l":160,"c":500},{"y":2019,"l":161,"c":400},{"y":2019,"l":162,"c":400},{"y":2019,"l":163,"c":300},{"y":2019,"l":164,"c":400},{"y":2019,"l":165,"c":300},{"y":2019,"l":166,"c":300},{"y":2019,"l":167,"c":300},{"y":2019,"l":168,"c":300},{"y":2019,"l":169,"c":300},{"y":2019,"l":170,"c":400},{"y":2019,"l":171,"c":300},{"y":2019,"l":172,"c":300},{"y":2019,"l":173,"c":300},{"y":2019,"l":174,"c":300},{"y":2019,"l":175,"c":300},{"y":2019,"l":176,"c":300},{"y":2019,"l":178,"c":300},{"y":2019,"l":179,"c":300},{"y":2019,"l":180,"c":400},{"y":2019,"l":182,"c":300},{"y":2019,"l":184,"c":300},{"y":2019,"l":185,"c":300},{"y":2019,"l":186,"c":300},{"y":2019,"l":188,"c":400},{"y":2019,"l":190,"c":300},{"y":2019,"l":192,"c":300},{"y":2019,"l":194,"c":300},{"y":2019,"l":196,"c":300},{"y":2019,"l":198,"c":300},{"y":2019,"l":200,"c":300},{"y":2019,"l":203,"c":300},{"y":2019,"l":205,"c":300},{"y":2019,"l":208,"c":300},{"y":2019,"l":210,"c":400},{"y":2019,"l":211,"c":400},{"y":2019,"l":212,"c":400},{"y":2019,"l":214,"c":300},
{"y":2020,"l":55,"c":7000},{"y":2020,"l":56,"c":7000},{"y":2020,"l":57,"c":6500},{"y":2020,"l":58,"c":3500},{"y":2020,"l":59,"c":6000},{"y":2020,"l":60,"c":8500},{"y":2020,"l":61,"c":7000},{"y":2020,"l":62,"c":6000},{"y":2020,"l":63,"c":11000},{"y":2020,"l":64,"c":5500},{"y":2020,"l":65,"c":7500},{"y":2020,"l":66,"c":8000},{"y":2020,"l":67,"c":9000},{"y":2020,"l":68,"c":10000},{"y":2020,"l":69,"c":8500},{"y":2020,"l":70,"c":7000},{"y":2020,"l":71,"c":5500},{"y":2020,"l":72,"c":5000},{"y":2020,"l":73,"c":10000},{"y":2020,"l":74,"c":10000},{"y":2020,"l":75,"c":10000},{"y":2020,"l":76,"c":10500},{"y":2020,"l":77,"c":10000},{"y":2020,"l":78,"c":10500},{"y":2020,"l":79,"c":6500},{"y":2020,"l":80,"c":7000},{"y":2020,"l":81,"c":8500},{"y":2020,"l":82,"c":12000},{"y":2020,"l":83,"c":9000},{"y":2020,"l":84,"c":11500},{"y":2020,"l":85,"c":9000},{"y":2020,"l":86,"c":5000},{"y":2020,"l":87,"c":5500},{"y":2020,"l":88,"c":5500},{"y":2020,"l":89,"c":6500},{"y":2020,"l":90,"c":8000},{"y":2020,"l":91,"c":6000},{"y":2020,"l":92,"c":6000},{"y":2020,"l":93,"c":7500},{"y":2020,"l":94,"c":10500},{"y":2020,"l":95,"c":9000},{"y":2020,"l":96,"c":9000},{"y":2020,"l":97,"c":8500},{"y":2020,"l":98,"c":7500},{"y":2020,"l":99,"c":7000},{"y":2020,"l":100,"c":6000},{"y":2020,"l":101,"c":6000},{"y":2020,"l":102,"c":5500},{"y":2020,"l":103,"c":6500},{"y":2020,"l":104,"c":6000},{"y":2020,"l":105,"c":5500},{"y":2020,"l":106,"c":5500},{"y":2020,"l":107,"c":6500},{"y":2020,"l":108,"c":6000},{"y":2020,"l":109,"c":5500},{"y":2020,"l":110,"c":9500},{"y":2020,"l":111,"c":5500},{"y":2020,"l":112,"c":5500},{"y":2020,"l":113,"c":4500},{"y":2020,"l":114,"c":5500},{"y":2020,"l":115,"c":5000},{"y":2020,"l":116,"c":2500},{"y":2020,"l":117,"c":3000},{"y":2020,"l":118,"c":4500},{"y":2020,"l":119,"c":4500},{"y":2020,"l":120,"c":4500},{"y":2020,"l":121,"c":4500},{"y":2020,"l":122,"c":4500},{"y":2020,"l":123,"c":4500},{"y":2020,"l":124,"c":4000},{"y":2020,"l":125,"c":4500},{"y":2020,"l":126,"c":4000},{"y":2020,"l":127,"c":3500},{"y":2020,"l":128,"c":4000},{"y":2020,"l":129,"c":3500},{"y":2020,"l":130,"c":3000},{"y":2020,"l":131,"c":3500},{"y":2020,"l":132,"c":2500},{"y":2020,"l":133,"c":3500},{"y":2020,"l":134,"c":3000},{"y":2020,"l":135,"c":2500},{"y":2020,"l":136,"c":3500},{"y":2020,"l":137,"c":4500},{"y":2020,"l":138,"c":5000},{"y":2020,"l":139,"c":4500},{"y":2020,"l":140,"c":3500},{"y":2020,"l":141,"c":3500},{"y":2020,"l":142,"c":3500},{"y":2020,"l":143,"c":3000},{"y":2020,"l":144,"c":2500},{"y":2020,"l":145,"c":4500},{"y":2020,"l":146,"c":2500},{"y":2020,"l":147,"c":2000},{"y":2020,"l":148,"c":2000},{"y":2020,"l":149,"c":1500},{"y":2020,"l":150,"c":3000},{"y":2020,"l":151,"c":1500},{"y":2020,"l":152,"c":1200},{"y":2020,"l":153,"c":1200},{"y":2020,"l":154,"c":1000},{"y":2020,"l":155,"c":1200},{"y":2020,"l":156,"c":1000},{"y":2020,"l":157,"c":800},{"y":2020,"l":158,"c":600},{"y":2020,"l":159,"c":500},{"y":2020,"l":160,"c":1000},{"y":2020,"l":161,"c":500},{"y":2020,"l":162,"c":1000},{"y":2020,"l":163,"c":600},{"y":2020,"l":164,"c":500},{"y":2020,"l":165,"c":400},{"y":2020,"l":166,"c":200},{"y":2020,"l":170,"c":200},{"y":2020,"l":171,"c":200},{"y":2020,"l":173,"c":1500},{"y":2020,"l":177,"c":300},{"y":2020,"l":178,"c":300},{"y":2020,"l":180,"c":300},{"y":2020,"l":181,"c":300},{"y":2020,"l":187,"c":1000},{"y":2020,"l":188,"c":300},{"y":2020,"l":197,"c":500},{"y":2020,"l":210,"c":300},{"y":2020,"l":220,"c":1200},
{"y":2021,"l":54,"c":1000},{"y":2021,"l":55,"c":3000},{"y":2021,"l":56,"c":2000},{"y":2021,"l":57,"c":1500},{"y":2021,"l":58,"c":2500},{"y":2021,"l":59,"c":1500},{"y":2021,"l":60,"c":3500},{"y":2021,"l":61,"c":2000},{"y":2021,"l":62,"c":4500},{"y":2021,"l":63,"c":4000},{"y":2021,"l":64,"c":3000},{"y":2021,"l":65,"c":4000},{"y":2021,"l":66,"c":4500},{"y":2021,"l":67,"c":4000},{"y":2021,"l":68,"c":3500},{"y":2021,"l":69,"c":5000},{"y":2021,"l":70,"c":4500},{"y":2021,"l":71,"c":5000},{"y":2021,"l":72,"c":4500},{"y":2021,"l":73,"c":4000},{"y":2021,"l":74,"c":5500},{"y":2021,"l":75,"c":5000},{"y":2021,"l":76,"c":4500},{"y":2021,"l":77,"c":5500},{"y":2021,"l":78,"c":6000},{"y":2021,"l":79,"c":5500},{"y":2021,"l":80,"c":6500},{"y":2021,"l":81,"c":7000},{"y":2021,"l":82,"c":6000},{"y":2021,"l":83,"c":5000},{"y":2021,"l":84,"c":5000},{"y":2021,"l":85,"c":4000},{"y":2021,"l":86,"c":4000},{"y":2021,"l":87,"c":3500},{"y":2021,"l":88,"c":3000},{"y":2021,"l":89,"c":3500},{"y":2021,"l":90,"c":3000},{"y":2021,"l":91,"c":3500},{"y":2021,"l":92,"c":3000},{"y":2021,"l":93,"c":3000},{"y":2021,"l":94,"c":3000},{"y":2021,"l":95,"c":3500},{"y":2021,"l":96,"c":4500},{"y":2021,"l":97,"c":3500},{"y":2021,"l":98,"c":3500},{"y":2021,"l":99,"c":3500},{"y":2021,"l":100,"c":4000},{"y":2021,"l":101,"c":3500},{"y":2021,"l":102,"c":3000},{"y":2021,"l":103,"c":3500},{"y":2021,"l":104,"c":3000},{"y":2021,"l":105,"c":3000},{"y":2021,"l":106,"c":3000},{"y":2021,"l":107,"c":3500},{"y":2021,"l":108,"c":3000},{"y":2021,"l":109,"c":3500},{"y":2021,"l":110,"c":3500},{"y":2021,"l":111,"c":3000},{"y":2021,"l":112,"c":2000},{"y":2021,"l":113,"c":2500},{"y":2021,"l":114,"c":2000},{"y":2021,"l":115,"c":2000},{"y":2021,"l":116,"c":1500},{"y":2021,"l":117,"c":1500},{"y":2021,"l":118,"c":1800},{"y":2021,"l":119,"c":1500},{"y":2021,"l":120,"c":2000},{"y":2021,"l":121,"c":1500},{"y":2021,"l":122,"c":1500},{"y":2021,"l":123,"c":2000},{"y":2021,"l":124,"c":1500},{"y":2021,"l":125,"c":1500},{"y":2021,"l":126,"c":2000},{"y":2021,"l":127,"c":1500},{"y":2021,"l":128,"c":1500},{"y":2021,"l":129,"c":2000},{"y":2021,"l":130,"c":1500},{"y":2021,"l":131,"c":1500},{"y":2021,"l":132,"c":2000},{"y":2021,"l":133,"c":2500},{"y":2021,"l":134,"c":2500},{"y":2021,"l":135,"c":2000},{"y":2021,"l":136,"c":2500},{"y":2021,"l":137,"c":2000},{"y":2021,"l":138,"c":1500},{"y":2021,"l":139,"c":1200},{"y":2021,"l":140,"c":1500},{"y":2021,"l":141,"c":800},{"y":2021,"l":142,"c":800},{"y":2021,"l":143,"c":600},{"y":2021,"l":145,"c":1200},{"y":2021,"l":150,"c":500},{"y":2021,"l":152,"c":400},{"y":2021,"l":155,"c":300},{"y":2021,"l":158,"c":300},{"y":2021,"l":160,"c":300},{"y":2021,"l":163,"c":200},{"y":2021,"l":166,"c":300},{"y":2021,"l":170,"c":500},{"y":2021,"l":171,"c":800},{"y":2021,"l":172,"c":1000},{"y":2021,"l":173,"c":1000},{"y":2021,"l":174,"c":800},{"y":2021,"l":175,"c":700},{"y":2021,"l":176,"c":900},{"y":2021,"l":177,"c":800},{"y":2021,"l":178,"c":700},{"y":2021,"l":179,"c":600},{"y":2021,"l":180,"c":600},{"y":2021,"l":181,"c":500},{"y":2021,"l":185,"c":300},{"y":2021,"l":190,"c":300},{"y":2021,"l":200,"c":300},{"y":2021,"l":209,"c":500},{"y":2021,"l":215,"c":200},
{"y":2022,"l":54,"c":500},{"y":2022,"l":55,"c":200},{"y":2022,"l":56,"c":1200},{"y":2022,"l":57,"c":800},{"y":2022,"l":58,"c":700},{"y":2022,"l":59,"c":700},{"y":2022,"l":60,"c":700},{"y":2022,"l":61,"c":600},{"y":2022,"l":62,"c":700},{"y":2022,"l":63,"c":600},{"y":2022,"l":64,"c":800},{"y":2022,"l":65,"c":700},{"y":2022,"l":66,"c":1300},{"y":2022,"l":67,"c":1300},{"y":2022,"l":68,"c":1500},{"y":2022,"l":69,"c":2000},{"y":2022,"l":70,"c":2500},{"y":2022,"l":71,"c":1800},{"y":2022,"l":72,"c":2500},{"y":2022,"l":73,"c":2000},{"y":2022,"l":74,"c":2800},{"y":2022,"l":75,"c":3200},{"y":2022,"l":76,"c":3000},{"y":2022,"l":77,"c":3500},{"y":2022,"l":78,"c":3300},{"y":2022,"l":79,"c":3500},{"y":2022,"l":80,"c":3700},{"y":2022,"l":81,"c":3000},{"y":2022,"l":82,"c":3300},{"y":2022,"l":83,"c":2500},{"y":2022,"l":84,"c":2200},{"y":2022,"l":85,"c":2700},{"y":2022,"l":86,"c":2500},{"y":2022,"l":87,"c":2000},{"y":2022,"l":88,"c":2500},{"y":2022,"l":89,"c":2800},{"y":2022,"l":90,"c":1800},{"y":2022,"l":91,"c":1500},{"y":2022,"l":92,"c":2000},{"y":2022,"l":93,"c":1500},{"y":2022,"l":94,"c":1800},{"y":2022,"l":95,"c":2000},{"y":2022,"l":96,"c":2000},{"y":2022,"l":97,"c":2500},{"y":2022,"l":98,"c":3000},{"y":2022,"l":99,"c":3000},{"y":2022,"l":100,"c":3500},{"y":2022,"l":101,"c":4000},{"y":2022,"l":102,"c":3500},{"y":2022,"l":103,"c":3500},{"y":2022,"l":104,"c":3000},{"y":2022,"l":105,"c":3000},{"y":2022,"l":106,"c":3000},{"y":2022,"l":107,"c":2500},{"y":2022,"l":108,"c":2000},{"y":2022,"l":109,"c":2000},{"y":2022,"l":110,"c":2000},{"y":2022,"l":111,"c":1500},{"y":2022,"l":112,"c":1500},{"y":2022,"l":113,"c":1500},{"y":2022,"l":114,"c":1200},{"y":2022,"l":115,"c":1500},{"y":2022,"l":116,"c":1000},{"y":2022,"l":117,"c":1200},{"y":2022,"l":118,"c":1000},{"y":2022,"l":119,"c":1000},{"y":2022,"l":120,"c":1000},{"y":2022,"l":121,"c":800},{"y":2022,"l":122,"c":800},{"y":2022,"l":123,"c":1000},{"y":2022,"l":124,"c":800},{"y":2022,"l":125,"c":800},{"y":2022,"l":126,"c":700},{"y":2022,"l":127,"c":700},{"y":2022,"l":128,"c":600},{"y":2022,"l":129,"c":700},{"y":2022,"l":130,"c":700},{"y":2022,"l":131,"c":900},{"y":2022,"l":132,"c":700},{"y":2022,"l":133,"c":600},{"y":2022,"l":134,"c":500},{"y":2022,"l":135,"c":600},{"y":2022,"l":136,"c":900},{"y":2022,"l":137,"c":500},{"y":2022,"l":138,"c":500},{"y":2022,"l":139,"c":400},{"y":2022,"l":140,"c":500},{"y":2022,"l":141,"c":300},{"y":2022,"l":142,"c":1200},{"y":2022,"l":143,"c":400},{"y":2022,"l":144,"c":300},{"y":2022,"l":146,"c":600},{"y":2022,"l":149,"c":500},{"y":2022,"l":150,"c":300},{"y":2022,"l":152,"c":300},{"y":2022,"l":155,"c":400},{"y":2022,"l":157,"c":300},{"y":2022,"l":159,"c":700},{"y":2022,"l":160,"c":300},{"y":2022,"l":161,"c":800},{"y":2022,"l":163,"c":500},{"y":2022,"l":165,"c":800},{"y":2022,"l":167,"c":300},{"y":2022,"l":170,"c":600},{"y":2022,"l":172,"c":300},{"y":2022,"l":174,"c":300},{"y":2022,"l":176,"c":300},{"y":2022,"l":178,"c":300},{"y":2022,"l":183,"c":300},{"y":2022,"l":186,"c":400},{"y":2022,"l":190,"c":300},{"y":2022,"l":194,"c":400},{"y":2022,"l":196,"c":300},{"y":2022,"l":200,"c":300},{"y":2022,"l":203,"c":300},{"y":2022,"l":206,"c":300},{"y":2022,"l":208,"c":400},{"y":2022,"l":209,"c":300},{"y":2022,"l":210,"c":300},{"y":2022,"l":211,"c":300},{"y":2022,"l":212,"c":300},{"y":2022,"l":213,"c":300},{"y":2022,"l":214,"c":300},{"y":2022,"l":215,"c":300},{"y":2022,"l":216,"c":300},{"y":2022,"l":217,"c":300},{"y":2022,"l":218,"c":300},{"y":2022,"l":219,"c":300},{"y":2022,"l":220,"c":300},
{"y":2023,"l":54,"c":400},{"y":2023,"l":55,"c":400},{"y":2023,"l":56,"c":1000},{"y":2023,"l":57,"c":800},{"y":2023,"l":58,"c":1300},{"y":2023,"l":59,"c":1000},{"y":2023,"l":60,"c":1500},{"y":2023,"l":61,"c":1800},{"y":2023,"l":62,"c":1300},{"y":2023,"l":63,"c":1100},{"y":2023,"l":64,"c":1300},{"y":2023,"l":65,"c":1800},{"y":2023,"l":66,"c":2300},{"y":2023,"l":67,"c":2000},{"y":2023,"l":68,"c":2300},{"y":2023,"l":69,"c":2400},{"y":2023,"l":70,"c":2500},{"y":2023,"l":71,"c":2300},{"y":2023,"l":72,"c":2800},{"y":2023,"l":73,"c":2800},{"y":2023,"l":74,"c":2800},{"y":2023,"l":75,"c":2800},{"y":2023,"l":76,"c":2600},{"y":2023,"l":77,"c":2500},{"y":2023,"l":78,"c":4200},{"y":2023,"l":79,"c":2500},{"y":2023,"l":80,"c":3400},{"y":2023,"l":81,"c":3000},{"y":2023,"l":82,"c":2800},{"y":2023,"l":83,"c":2500},{"y":2023,"l":84,"c":3100},{"y":2023,"l":85,"c":3000},{"y":2023,"l":86,"c":2500},{"y":2023,"l":87,"c":2800},{"y":2023,"l":88,"c":3000},{"y":2023,"l":89,"c":2800},{"y":2023,"l":90,"c":3200},{"y":2023,"l":91,"c":3200},{"y":2023,"l":92,"c":3300},{"y":2023,"l":93,"c":3300},{"y":2023,"l":94,"c":3100},{"y":2023,"l":95,"c":3300},{"y":2023,"l":96,"c":3200},{"y":2023,"l":97,"c":3000},{"y":2023,"l":98,"c":3000},{"y":2023,"l":99,"c":2800},{"y":2023,"l":100,"c":2800},{"y":2023,"l":101,"c":3000},{"y":2023,"l":102,"c":2800},{"y":2023,"l":103,"c":2500},{"y":2023,"l":104,"c":2800},{"y":2023,"l":105,"c":2500},{"y":2023,"l":106,"c":2800},{"y":2023,"l":107,"c":2500},{"y":2023,"l":108,"c":2300},{"y":2023,"l":109,"c":2500},{"y":2023,"l":110,"c":2200},{"y":2023,"l":111,"c":2000},{"y":2023,"l":112,"c":2200},{"y":2023,"l":113,"c":1800},{"y":2023,"l":114,"c":1500},{"y":2023,"l":115,"c":1300},{"y":2023,"l":116,"c":1200},{"y":2023,"l":117,"c":1000},{"y":2023,"l":118,"c":900},{"y":2023,"l":119,"c":900},{"y":2023,"l":120,"c":800},{"y":2023,"l":121,"c":800},{"y":2023,"l":122,"c":800},{"y":2023,"l":123,"c":700},{"y":2023,"l":124,"c":700},{"y":2023,"l":125,"c":700},{"y":2023,"l":126,"c":700},{"y":2023,"l":127,"c":600},{"y":2023,"l":128,"c":700},{"y":2023,"l":129,"c":600},{"y":2023,"l":130,"c":700},{"y":2023,"l":131,"c":600},{"y":2023,"l":132,"c":600},{"y":2023,"l":133,"c":600},{"y":2023,"l":134,"c":600},{"y":2023,"l":135,"c":700},{"y":2023,"l":136,"c":700},{"y":2023,"l":137,"c":700},{"y":2023,"l":138,"c":600},{"y":2023,"l":139,"c":500},{"y":2023,"l":140,"c":600},{"y":2023,"l":141,"c":600},{"y":2023,"l":142,"c":500},{"y":2023,"l":143,"c":500},{"y":2023,"l":144,"c":300},{"y":2023,"l":145,"c":400},{"y":2023,"l":146,"c":300},{"y":2023,"l":148,"c":500},{"y":2023,"l":150,"c":500},{"y":2023,"l":151,"c":600},{"y":2023,"l":152,"c":700},{"y":2023,"l":153,"c":700},{"y":2023,"l":154,"c":600},{"y":2023,"l":156,"c":500},{"y":2023,"l":158,"c":600},{"y":2023,"l":159,"c":500},{"y":2023,"l":160,"c":700},{"y":2023,"l":161,"c":500},{"y":2023,"l":163,"c":500},{"y":2023,"l":164,"c":600},{"y":2023,"l":166,"c":500},{"y":2023,"l":168,"c":600},{"y":2023,"l":169,"c":500},{"y":2023,"l":171,"c":500},{"y":2023,"l":173,"c":600},{"y":2023,"l":175,"c":400},{"y":2023,"l":177,"c":400},{"y":2023,"l":179,"c":300},{"y":2023,"l":181,"c":400},{"y":2023,"l":183,"c":300},{"y":2023,"l":185,"c":300},{"y":2023,"l":187,"c":300},{"y":2023,"l":189,"c":300},{"y":2023,"l":191,"c":300},{"y":2023,"l":193,"c":400},{"y":2023,"l":195,"c":300},{"y":2023,"l":200,"c":300},{"y":2023,"l":208,"c":300},{"y":2023,"l":219,"c":400},
{"y":2024,"l":54,"c":1000},{"y":2024,"l":57,"c":1500},{"y":2024,"l":58,"c":500},{"y":2024,"l":59,"c":500},{"y":2024,"l":60,"c":500},{"y":2024,"l":61,"c":500},{"y":2024,"l":62,"c":500},{"y":2024,"l":63,"c":500},{"y":2024,"l":64,"c":500},{"y":2024,"l":66,"c":1000},{"y":2024,"l":67,"c":1500},{"y":2024,"l":68,"c":2500},{"y":2024,"l":69,"c":2500},{"y":2024,"l":70,"c":2500},{"y":2024,"l":71,"c":2500},{"y":2024,"l":72,"c":2500},{"y":2024,"l":73,"c":2000},{"y":2024,"l":74,"c":2500},{"y":2024,"l":75,"c":3000},{"y":2024,"l":76,"c":2500},{"y":2024,"l":77,"c":3500},{"y":2024,"l":78,"c":6000},{"y":2024,"l":79,"c":4000},{"y":2024,"l":80,"c":3500},{"y":2024,"l":81,"c":6000},{"y":2024,"l":82,"c":5500},{"y":2024,"l":83,"c":5000},{"y":2024,"l":84,"c":4000},{"y":2024,"l":85,"c":4500},{"y":2024,"l":86,"c":4500},{"y":2024,"l":87,"c":4000},{"y":2024,"l":88,"c":4500},{"y":2024,"l":89,"c":4000},{"y":2024,"l":90,"c":4500},{"y":2024,"l":91,"c":3500},{"y":2024,"l":92,"c":3500},{"y":2024,"l":93,"c":3000},{"y":2024,"l":94,"c":5500},{"y":2024,"l":95,"c":4500},{"y":2024,"l":96,"c":3500},{"y":2024,"l":97,"c":4000},{"y":2024,"l":98,"c":3500},{"y":2024,"l":99,"c":3500},{"y":2024,"l":100,"c":4500},{"y":2024,"l":101,"c":3000},{"y":2024,"l":102,"c":2500},{"y":2024,"l":103,"c":2500},{"y":2024,"l":104,"c":3000},{"y":2024,"l":105,"c":3000},{"y":2024,"l":106,"c":2500},{"y":2024,"l":107,"c":2500},{"y":2024,"l":108,"c":3000},{"y":2024,"l":109,"c":2500},{"y":2024,"l":110,"c":2000},{"y":2024,"l":111,"c":4000},{"y":2024,"l":112,"c":2500},{"y":2024,"l":113,"c":2200},{"y":2024,"l":114,"c":2200},{"y":2024,"l":115,"c":2200},{"y":2024,"l":116,"c":2200},{"y":2024,"l":117,"c":2200},{"y":2024,"l":118,"c":2500},{"y":2024,"l":119,"c":3200},{"y":2024,"l":120,"c":2500},{"y":2024,"l":121,"c":2200},{"y":2024,"l":122,"c":2200},{"y":2024,"l":123,"c":2000},{"y":2024,"l":124,"c":2200},{"y":2024,"l":125,"c":2000},{"y":2024,"l":126,"c":2200},{"y":2024,"l":127,"c":2500},{"y":2024,"l":128,"c":2000},{"y":2024,"l":129,"c":2000},{"y":2024,"l":130,"c":2000},{"y":2024,"l":131,"c":1800},{"y":2024,"l":132,"c":1500},{"y":2024,"l":133,"c":1200},{"y":2024,"l":134,"c":1200},{"y":2024,"l":135,"c":1200},{"y":2024,"l":136,"c":2000},{"y":2024,"l":137,"c":1800},{"y":2024,"l":138,"c":1600},{"y":2024,"l":139,"c":1600},{"y":2024,"l":140,"c":1600},{"y":2024,"l":141,"c":1600},{"y":2024,"l":142,"c":1600},{"y":2024,"l":143,"c":1600},{"y":2024,"l":144,"c":1600},{"y":2024,"l":145,"c":1800},{"y":2024,"l":146,"c":1000},{"y":2024,"l":147,"c":600},{"y":2024,"l":148,"c":1000},{"y":2024,"l":149,"c":1000},{"y":2024,"l":150,"c":1500},{"y":2024,"l":151,"c":2000},{"y":2024,"l":152,"c":1600},{"y":2024,"l":153,"c":1000},{"y":2024,"l":154,"c":1500},{"y":2024,"l":155,"c":1600},{"y":2024,"l":156,"c":1600},{"y":2024,"l":157,"c":1600},{"y":2024,"l":158,"c":1800},{"y":2024,"l":159,"c":1800},{"y":2024,"l":160,"c":1800},{"y":2024,"l":161,"c":1800},{"y":2024,"l":162,"c":1800},{"y":2024,"l":163,"c":1900},{"y":2024,"l":164,"c":2000},{"y":2024,"l":165,"c":1800},{"y":2024,"l":166,"c":1500},{"y":2024,"l":167,"c":1200},{"y":2024,"l":168,"c":900},{"y":2024,"l":169,"c":900},{"y":2024,"l":170,"c":900},{"y":2024,"l":171,"c":1200},{"y":2024,"l":172,"c":600},{"y":2024,"l":173,"c":500},{"y":2024,"l":174,"c":500},{"y":2024,"l":175,"c":500},{"y":2024,"l":176,"c":1000},{"y":2024,"l":178,"c":400},{"y":2024,"l":179,"c":400},{"y":2024,"l":180,"c":400},{"y":2024,"l":181,"c":400},{"y":2024,"l":182,"c":400},{"y":2024,"l":183,"c":400},{"y":2024,"l":184,"c":400},{"y":2024,"l":186,"c":400},{"y":2024,"l":187,"c":400},{"y":2024,"l":188,"c":400},{"y":2024,"l":189,"c":400},{"y":2024,"l":190,"c":400},{"y":2024,"l":191,"c":400},{"y":2024,"l":193,"c":400},{"y":2024,"l":195,"c":400},{"y":2024,"l":196,"c":400},{"y":2024,"l":197,"c":400},{"y":2024,"l":198,"c":400},{"y":2024,"l":207,"c":400},{"y":2024,"l":208,"c":400},{"y":2024,"l":217,"c":400}
]},
"data":{"name":"d"},
"hconcat":[
{"transform":[{"filter":"datum.y <= 2017"}],
 "facet":{"row":{"field":"y","type":"ordinal","header":{"labels":false,"title":null}}},
 "spacing":26,
 "spec":{"width":591,"height":127,"layer":[
  {"transform":[{"filter":"isValid(datum.c)"}],
   "mark":{"type":"bar","width":3.45,"fill":"#9eb0df","stroke":"#1c1c28","strokeWidth":0.9},
   "encoding":{
    "x":{"field":"l","type":"quantitative","scale":{"domain":[49.5,220.5],"nice":false,"zero":false,"padding":0},
      "axis":{"values":[50,60,70,80,90,100,110,120,130,140,150,160,170,180,190,200,210,220],"labelOverlap":false,"labelAngle":-90,"labelFontSize":14.5,"labelPadding":10,"tickSize":5,"title":"Length (cm FL)","titleFontSize":15,"titlePadding":18}},
    "y":{"field":"c","type":"quantitative","scale":{"domain":[0,40000],"nice":false},
      "axis":{"values":[0,10000,20000,30000,40000],"labelOverlap":false,"format":",d","labelFontSize":15,"tickSize":5,"labelPadding":10,"title":null}}}},
  {"transform":[{"filter":"isValid(datum.t)"}],"mark":{"type":"rule","color":"#000","strokeWidth":1.5},
   "encoding":{"y":{"datum":0,"axis":{"values":[0,10000,20000,30000,40000],"labelOverlap":false,"format":",d","labelFontSize":15,"tickSize":5,"labelPadding":10,"title":null}}}},
  {"transform":[{"filter":"isValid(datum.t)"}],"mark":{"type":"rule","strokeWidth":3.5},
   "encoding":{
    "x":{"datum":96,"axis":{"values":[50,60,70,80,90,100,110,120,130,140,150,160,170,180,190,200,210,220],"labelOverlap":false,"labelAngle":-90,"labelFontSize":14.5,"labelPadding":10,"tickSize":5,"title":"Length (cm FL)","titleFontSize":15,"titlePadding":18}},
    "y":{"datum":0,"axis":{"values":[0,10000,20000,30000,40000],"labelOverlap":false,"format":",d","labelFontSize":15,"tickSize":5,"labelPadding":10,"title":null}},
    "y2":{"datum":30000},
    "color":{"condition":[{"test":"datum.y==2013||datum.y==2014","value":"#3a3a3a"},{"test":"datum.y==2015||datum.y==2016","value":"#7b6420"}],"value":"#8a8a8a"}}},
  {"transform":[{"filter":"isValid(datum.t)"}],"mark":{"type":"rule"},
   "encoding":{
    "x":{"datum":137,"axis":{"values":[50,60,70,80,90,100,110,120,130,140,150,160,170,180,190,200,210,220],"labelOverlap":false,"labelAngle":-90,"labelFontSize":14.5,"labelPadding":10,"tickSize":5,"title":"Length (cm FL)","titleFontSize":15,"titlePadding":18}},
    "y":{"datum":0,"axis":{"values":[0,10000,20000,30000,40000],"labelOverlap":false,"format":",d","labelFontSize":15,"tickSize":5,"labelPadding":10,"title":null}},
    "y2":{"datum":30000},
    "strokeWidth":{"condition":{"test":"datum.y==2017","value":1},"value":3.5},
    "color":{"condition":[{"test":"datum.y==2013||datum.y==2014","value":"#3a3a3a"},{"test":"datum.y==2015||datum.y==2016","value":"#7b6420"},{"test":"datum.y==2017","value":"#555555"}],"value":"#8a8a8a"}}},
  {"transform":[{"filter":"isValid(datum.t)"}],"mark":{"type":"text","align":"right","baseline":"alphabetic","fontSize":17},
   "encoding":{
    "x":{"datum":220.5,"axis":{"values":[50,60,70,80,90,100,110,120,130,140,150,160,170,180,190,200,210,220],"labelOverlap":false,"labelAngle":-90,"labelFontSize":14.5,"labelPadding":10,"tickSize":5,"title":"Length (cm FL)","titleFontSize":15,"titlePadding":18}},
    "y":{"datum":33900,"axis":{"values":[0,10000,20000,30000,40000],"labelOverlap":false,"format":",d","labelFontSize":15,"tickSize":5,"labelPadding":10,"title":null}},
    "text":{"field":"t"}}},
  {"transform":[{"filter":"isValid(datum.t)"}],"mark":{"type":"rule","color":"#3a3a3a","strokeWidth":1.2},
   "encoding":{
    "x":{"datum":144,"axis":{"values":[50,60,70,80,90,100,110,120,130,140,150,160,170,180,190,200,210,220],"labelOverlap":false,"labelAngle":-90,"labelFontSize":14.5,"labelPadding":10,"tickSize":5,"title":"Length (cm FL)","titleFontSize":15,"titlePadding":18}},
    "x2":{"datum":220.5},
    "y":{"datum":32600,"axis":{"values":[0,10000,20000,30000,40000],"labelOverlap":false,"format":",d","labelFontSize":15,"tickSize":5,"labelPadding":10,"title":null}}}},
  {"transform":[{"filter":"isValid(datum.n)"}],"mark":{"type":"text","align":"center","baseline":"middle","fontSize":16},
   "encoding":{
    "x":{"datum":117,"axis":{"values":[50,60,70,80,90,100,110,120,130,140,150,160,170,180,190,200,210,220],"labelOverlap":false,"labelAngle":-90,"labelFontSize":14.5,"labelPadding":10,"tickSize":5,"title":"Length (cm FL)","titleFontSize":15,"titlePadding":18}},
    "y":{"datum":25300,"axis":{"values":[0,10000,20000,30000,40000],"labelOverlap":false,"format":",d","labelFontSize":15,"tickSize":5,"labelPadding":10,"title":null}},
    "text":{"value":"96-137 cm FL"}}},
  {"transform":[{"filter":"isValid(datum.n)"}],"mark":{"type":"text","align":"center","baseline":"middle","fontSize":16},
   "encoding":{
    "x":{"datum":117,"axis":{"values":[50,60,70,80,90,100,110,120,130,140,150,160,170,180,190,200,210,220],"labelOverlap":false,"labelAngle":-90,"labelFontSize":14.5,"labelPadding":10,"tickSize":5,"title":"Length (cm FL)","titleFontSize":15,"titlePadding":18}},
    "y":{"datum":16700,"axis":{"values":[0,10000,20000,30000,40000],"labelOverlap":false,"format":",d","labelFontSize":15,"tickSize":5,"labelPadding":10,"title":null}},
    "text":{"field":"n"}}},
  {"transform":[{"filter":"isValid(datum.N)"}],"mark":{"type":"text","align":"center","baseline":"middle","fontSize":16.5},
   "encoding":{
    "x":{"datum":182.5,"axis":{"values":[50,60,70,80,90,100,110,120,130,140,150,160,170,180,190,200,210,220],"labelOverlap":false,"labelAngle":-90,"labelFontSize":14.5,"labelPadding":10,"tickSize":5,"title":"Length (cm FL)","titleFontSize":15,"titlePadding":18}},
    "y":{"datum":18200,"axis":{"values":[0,10000,20000,30000,40000],"labelOverlap":false,"format":",d","labelFontSize":15,"tickSize":5,"labelPadding":10,"title":null}},
    "text":{"field":"N"}}}
 ]}},
{"transform":[{"filter":"datum.y >= 2018"}],
 "facet":{"row":{"field":"y","type":"ordinal","header":{"labels":false,"title":null}}},
 "spacing":26,
 "spec":{"width":591,"height":127,"layer":[
  {"transform":[{"filter":"isValid(datum.c)"}],
   "mark":{"type":"bar","width":3.45,"fill":"#9eb0df","stroke":"#1c1c28","strokeWidth":0.9},
   "encoding":{
    "x":{"field":"l","type":"quantitative","scale":{"domain":[49.5,220.5],"nice":false,"zero":false,"padding":0},
      "axis":{"values":[50,60,70,80,90,100,110,120,130,140,150,160,170,180,190,200,210,220],"labelOverlap":false,"labelAngle":-90,"labelFontSize":14.5,"labelPadding":10,"tickSize":5,"title":"Length (cm FL)","titleFontSize":15,"titlePadding":18}},
    "y":{"field":"c","type":"quantitative","scale":{"domain":[0,40000],"nice":false},
      "axis":{"values":[0,10000,20000,30000,40000],"labels":false,"tickSize":5,"title":null}}}},
  {"transform":[{"filter":"isValid(datum.t)"}],"mark":{"type":"rule","color":"#000","strokeWidth":1.5},
   "encoding":{"y":{"datum":0,"axis":{"values":[0,10000,20000,30000,40000],"labels":false,"tickSize":5,"title":null}}}},
  {"transform":[{"filter":"isValid(datum.t)"}],"mark":{"type":"rule","strokeWidth":3.5,"color":"#8a8a8a"},
   "encoding":{
    "x":{"datum":96,"axis":{"values":[50,60,70,80,90,100,110,120,130,140,150,160,170,180,190,200,210,220],"labelOverlap":false,"labelAngle":-90,"labelFontSize":14.5,"labelPadding":10,"tickSize":5,"title":"Length (cm FL)","titleFontSize":15,"titlePadding":18}},
    "y":{"datum":0,"axis":{"values":[0,10000,20000,30000,40000],"labels":false,"tickSize":5,"title":null}},
    "y2":{"datum":30000}}},
  {"transform":[{"filter":"isValid(datum.t)"}],"mark":{"type":"rule","color":"#8a8a8a"},
   "encoding":{
    "x":{"datum":137,"axis":{"values":[50,60,70,80,90,100,110,120,130,140,150,160,170,180,190,200,210,220],"labelOverlap":false,"labelAngle":-90,"labelFontSize":14.5,"labelPadding":10,"tickSize":5,"title":"Length (cm FL)","titleFontSize":15,"titlePadding":18}},
    "y":{"datum":0,"axis":{"values":[0,10000,20000,30000,40000],"labels":false,"tickSize":5,"title":null}},
    "y2":{"datum":30000},
    "strokeWidth":{"condition":{"test":"datum.y==2020","value":1},"value":3.5}}},
  {"transform":[{"filter":"isValid(datum.t)"}],"mark":{"type":"text","align":"right","baseline":"alphabetic","fontSize":17},
   "encoding":{
    "x":{"datum":220.5,"axis":{"values":[50,60,70,80,90,100,110,120,130,140,150,160,170,180,190,200,210,220],"labelOverlap":false,"labelAngle":-90,"labelFontSize":14.5,"labelPadding":10,"tickSize":5,"title":"Length (cm FL)","titleFontSize":15,"titlePadding":18}},
    "y":{"datum":33900,"axis":{"values":[0,10000,20000,30000,40000],"labels":false,"tickSize":5,"title":null}},
    "text":{"field":"t"}}},
  {"transform":[{"filter":"isValid(datum.t)"}],"mark":{"type":"rule","color":"#3a3a3a","strokeWidth":1.2},
   "encoding":{
    "x":{"datum":143.5,"axis":{"values":[50,60,70,80,90,100,110,120,130,140,150,160,170,180,190,200,210,220],"labelOverlap":false,"labelAngle":-90,"labelFontSize":14.5,"labelPadding":10,"tickSize":5,"title":"Length (cm FL)","titleFontSize":15,"titlePadding":18}},
    "x2":{"datum":220.5},
    "y":{"datum":32600,"axis":{"values":[0,10000,20000,30000,40000],"labels":false,"tickSize":5,"title":null}}}},
  {"transform":[{"filter":"isValid(datum.n)"}],"mark":{"type":"text","align":"center","baseline":"middle","fontSize":16},
   "encoding":{
    "x":{"datum":116.5,"axis":{"values":[50,60,70,80,90,100,110,120,130,140,150,160,170,180,190,200,210,220],"labelOverlap":false,"labelAngle":-90,"labelFontSize":14.5,"labelPadding":10,"tickSize":5,"title":"Length (cm FL)","titleFontSize":15,"titlePadding":18}},
    "y":{"datum":25300,"axis":{"values":[0,10000,20000,30000,40000],"labels":false,"tickSize":5,"title":null}},
    "text":{"value":"96-137 cm FL"}}},
  {"transform":[{"filter":"isValid(datum.n)"}],"mark":{"type":"text","align":"center","baseline":"middle","fontSize":16},
   "encoding":{
    "x":{"datum":116.5,"axis":{"values":[50,60,70,80,90,100,110,120,130,140,150,160,170,180,190,200,210,220],"labelOverlap":false,"labelAngle":-90,"labelFontSize":14.5,"labelPadding":10,"tickSize":5,"title":"Length (cm FL)","titleFontSize":15,"titlePadding":18}},
    "y":{"datum":16700,"axis":{"values":[0,10000,20000,30000,40000],"labels":false,"tickSize":5,"title":null}},
    "text":{"field":"n"}}},
  {"transform":[{"filter":"isValid(datum.N)"}],"mark":{"type":"text","align":"center","baseline":"middle","fontSize":16.5},
   "encoding":{
    "x":{"datum":181.5,"axis":{"values":[50,60,70,80,90,100,110,120,130,140,150,160,170,180,190,200,210,220],"labelOverlap":false,"labelAngle":-90,"labelFontSize":14.5,"labelPadding":10,"tickSize":5,"title":"Length (cm FL)","titleFontSize":15,"titlePadding":18}},
    "y":{"datum":18200,"axis":{"values":[0,10000,20000,30000,40000],"labels":false,"tickSize":5,"title":null}},
    "text":{"field":"N"}}}
 ]}}
]
}
